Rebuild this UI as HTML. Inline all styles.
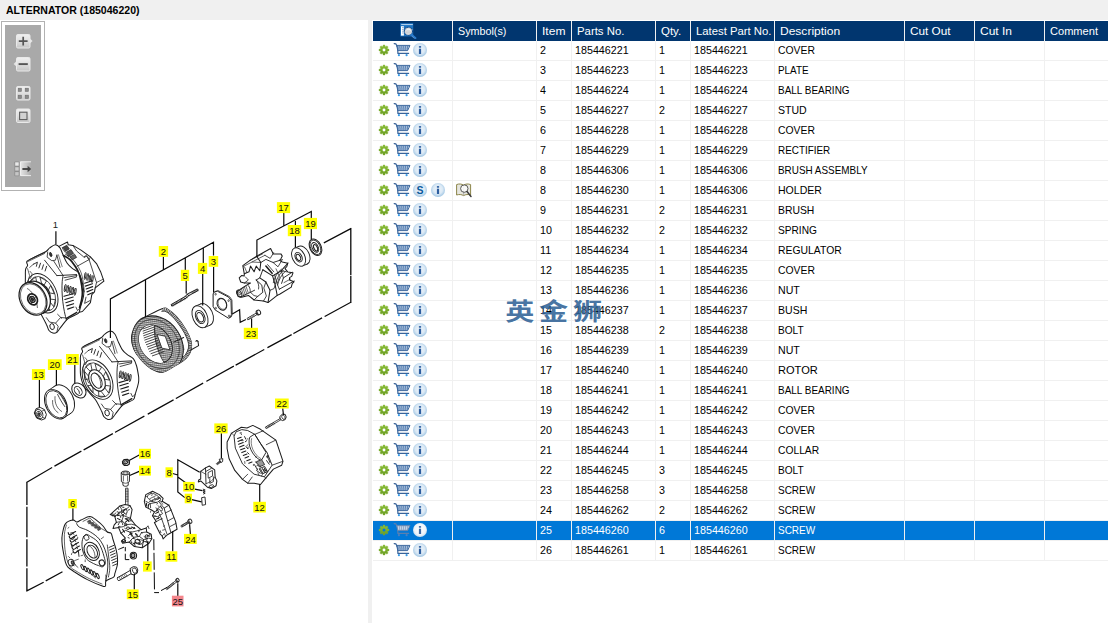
<!DOCTYPE html><html><head><meta charset="utf-8"><title>Parts</title><style>html,body{margin:0;padding:0}
body{width:1108px;height:623px;overflow:hidden;background:#fff;position:relative;font-family:"Liberation Sans",sans-serif;font-size:11.2px;color:#000}
#title{position:absolute;left:0;top:0;width:1108px;height:20px;background:#f0f0f0}
#title .tt{position:absolute;left:6px;top:3px;font-weight:bold;font-size:11.3px;line-height:14px;white-space:nowrap;display:inline-block;transform-origin:0 50%;transform:scaleX(0.9329)}
#left{position:absolute;left:0;top:20px;width:368px;height:603px;background:#fff;overflow:hidden}
#split{position:absolute;left:368px;top:20px;width:4px;height:603px;background:#f0f0f0}
#right{position:absolute;left:372px;top:20px;width:736px;height:603px;background:#fff}
#hdr{position:absolute;left:1px;top:1px;width:735px;height:20px;background:#01366f}
.ht{position:absolute;top:1px;height:20px;line-height:20px;color:#fff;white-space:nowrap;margin-left:-372px}
.vs{position:absolute;top:1px;width:1px;height:540px;background:#f0f0f0;margin-left:-372px;z-index:3}
.row{position:absolute;left:1px;width:735px;height:19px;border-bottom:1px solid #f0f0f0}
.row.sel{background:#0078d7;color:#fff}
.ct{position:absolute;top:0;height:19px;line-height:19px;white-space:nowrap}
.sx{display:inline-block;transform-origin:0 50%;transform:scaleX(0.93)}
.ic{position:absolute;overflow:visible}
#right>.ic{margin-left:-372px;margin-top:-20px}
#tb{position:absolute;left:1px;top:21px;width:42px;height:168px;border:1px solid #b2b2b2;background:#fff;z-index:4}
#tbi{position:absolute;left:3px;top:3px;width:36px;height:162px;background:#a9a9a9}
</style></head><body>
<svg width="0" height="0" style="position:absolute"><defs>
<linearGradient id="gg" x1="0" y1="0" x2="0" y2="1"><stop offset="0" stop-color="#8cc03a"/><stop offset="1" stop-color="#6a9c22"/></linearGradient>
<radialGradient id="ig" cx="0.5" cy="0.45" r="0.55"><stop offset="0" stop-color="#eef5fb"/><stop offset="0.6" stop-color="#dbe9f5"/><stop offset="1" stop-color="#9fc5e3"/></radialGradient>
<radialGradient id="igs" cx="0.5" cy="0.45" r="0.55"><stop offset="0" stop-color="#ffffff"/><stop offset="0.7" stop-color="#eef4fa"/><stop offset="1" stop-color="#c4dbee"/></radialGradient>
<symbol id="i-gear" overflow="visible"><path d="M4.03 1.33 L4.01 -0.00 L5.99 -0.00 L5.97 1.33 L6.91 1.71 L7.83 0.76 L9.24 2.17 L8.29 3.09 L8.67 4.03 L10.00 4.01 L10.00 5.99 L8.67 5.97 L8.29 6.91 L9.24 7.83 L7.83 9.24 L6.91 8.29 L5.97 8.67 L5.99 10.00 L4.01 10.00 L4.03 8.67 L3.09 8.29 L2.17 9.24 L0.76 7.83 L1.71 6.91 L1.33 5.97 L-0.00 5.99 L-0.00 4.01 L1.33 4.03 L1.71 3.09 L0.76 2.17 L2.17 0.76 L3.09 1.71Z" fill="url(#gg)" stroke="#7fb030" stroke-width="0.35" stroke-linejoin="round"/><circle cx="5" cy="5" r="1.45" fill="#fff"/></symbol>
<symbol id="i-gears" overflow="visible"><path d="M4.03 1.33 L4.01 -0.00 L5.99 -0.00 L5.97 1.33 L6.91 1.71 L7.83 0.76 L9.24 2.17 L8.29 3.09 L8.67 4.03 L10.00 4.01 L10.00 5.99 L8.67 5.97 L8.29 6.91 L9.24 7.83 L7.83 9.24 L6.91 8.29 L5.97 8.67 L5.99 10.00 L4.01 10.00 L4.03 8.67 L3.09 8.29 L2.17 9.24 L0.76 7.83 L1.71 6.91 L1.33 5.97 L-0.00 5.99 L-0.00 4.01 L1.33 4.03 L1.71 3.09 L0.76 2.17 L2.17 0.76 L3.09 1.71Z" fill="url(#gg)" stroke="#7fb030" stroke-width="0.35" stroke-linejoin="round"/><circle cx="5" cy="5" r="1.5" fill="#0078d7"/></symbol>
<symbol id="i-cart" overflow="visible">
 <path d="M0.2 0.6 L1.8 0.8 L3.6 4.2 L3.9 10.4 L14.6 10.4" fill="none" stroke="#38639a" stroke-width="1.2" stroke-linejoin="round" stroke-linecap="round"/>
 <path d="M2.6 2.4 L16 2.4 L13.6 7.6 L3.8 7.6 Z" fill="#5a82b4" stroke="#38639a" stroke-width="0.9" stroke-linejoin="round"/>
 <path d="M4.4 4.0 H14.8 M4.6 6.0 H14" stroke="#eef3fa" stroke-width="1.0" stroke-dasharray="1.0 0.9" fill="none"/>
 <circle cx="4.9" cy="12.2" r="1.1" fill="#3b9be6"/><circle cx="12.6" cy="12.2" r="1.1" fill="#3b9be6"/>
</symbol>
<symbol id="i-carts" overflow="visible">
 <path d="M0.2 0.6 L1.8 0.8 L3.6 4.2 L3.9 10.4 L14.6 10.4" fill="none" stroke="#5a7fae" stroke-width="1.2" stroke-linejoin="round" stroke-linecap="round"/>
 <path d="M2.6 2.4 L16 2.4 L13.6 7.6 L3.8 7.6 Z" fill="#8fa9c9" stroke="#6a88b0" stroke-width="0.9" stroke-linejoin="round"/>
 <path d="M4 4.1 H14.6 M4 5.9 H14" stroke="#f2f6fb" stroke-width="0.9" stroke-dasharray="1.1 0.9" fill="none"/>
 <circle cx="4.9" cy="12.2" r="1.1" fill="#4a7fc0"/><circle cx="12.6" cy="12.2" r="1.1" fill="#4a7fc0"/>
</symbol>
<symbol id="i-info" overflow="visible"><circle cx="7" cy="7" r="7" fill="url(#ig)"/><rect x="5.9" y="3.1" width="2.2" height="1.6" fill="#2c5d9f"/><rect x="5.9" y="5.7" width="2.2" height="5.3" fill="#2c5d9f"/></symbol>
<symbol id="i-infos" overflow="visible"><circle cx="7" cy="7" r="7" fill="url(#igs)"/><rect x="5.9" y="3.1" width="2.2" height="1.6" fill="#3c6aa6"/><rect x="5.9" y="5.7" width="2.2" height="5.3" fill="#3c6aa6"/></symbol>
<symbol id="i-s" overflow="visible"><circle cx="7" cy="7" r="7" fill="url(#ig)"/><text x="7" y="10.6" text-anchor="middle" font-family="Liberation Sans, sans-serif" font-weight="bold" font-size="10.5" fill="#0b5a9c">S</text></symbol>
<symbol id="i-book" overflow="visible">
 <path d="M0.6 1.6 C3 0.6 5.6 0.8 7.6 2.2 C9.6 0.8 12.2 0.6 14.6 1.6 L14.6 12 C12.2 11.2 9.6 11.4 7.6 12.6 C5.6 11.4 3 11.2 0.6 12 Z" fill="#e6e6df" stroke="#8c8548" stroke-width="1"/>
 <path d="M7.6 2.2 V12.6" stroke="#9a9a9a" stroke-width="0.7"/>
 <circle cx="8.3" cy="5.6" r="3.7" fill="#fbfbfb" fill-opacity="0.85" stroke="#4a4a4a" stroke-width="0.9"/>
 <path d="M11 8.6 L15 13.4" stroke="#3a3a3a" stroke-width="1.5" stroke-linecap="round"/>
</symbol>
<symbol id="i-find" overflow="visible">
 <rect x="0.2" y="0.2" width="13" height="13.2" fill="#1f74c2"/>
 <rect x="1.2" y="1.3" width="11.6" height="0.75" fill="#eaf3fb"/>
 <rect x="1" y="3.2" width="2.9" height="9.4" fill="#ffffff"/>
 <path d="M2.5 4.6 h0.9 M2.5 6.4 h0.9 M2.5 8.2 h0.9 M2.5 10 h0.9" stroke="#1b5da6" stroke-width="0.9"/>
 <path d="M12.1 6.2 L13 6.2 L13 7.2 Z" fill="#fff"/>
 <circle cx="8.4" cy="8.3" r="4.1" fill="#d6d9dd" stroke="#0f4a8c" stroke-width="1.05" stroke-dasharray="1.1 0.35"/>
 <path d="M6.6 7.0 C7.8 5.8 9.6 6.0 10.6 7.4" stroke="#fbfcfd" stroke-width="0.9" fill="none"/>
 <path d="M5.2 9.2 H11.4" stroke="#c4c9cf" stroke-width="0.7"/>
 <path d="M11.5 11.9 L15.4 15.0" stroke="#2a7acb" stroke-width="2.1" stroke-linecap="round"/>
 <path d="M11.9 13.3 L14.3 15.3" stroke="#e8f0f8" stroke-width="0.6" stroke-dasharray="0.7 0.7"/>
</symbol>
</defs></svg>
<div id="title"><span class="tt">ALTERNATOR (185046220)</span></div>
<div id="left"><svg class="ic" style="left:0;top:-20px" width="368" height="623" viewBox="0 0 368 623">
<g id="p18">
<ellipse cx="303.0" cy="255.2" rx="6.2" ry="9.8" transform="rotate(-26.0 303.0 255.2)" fill="#fff" stroke="#1c1c1c" stroke-width="0.91" />
<path d="M302.7 265.9 L307.1 264.1 L298.9 246.3 L294.5 248.1 Z" fill="#fff" stroke="none" stroke-width="0.00" stroke-linejoin="round" stroke-linecap="round" />
<path d="M302.7 265.9 l4.4 -1.8 M294.5 248.1 l4.4 -1.8" fill="none" stroke="#1c1c1c" stroke-width="0.91" stroke-linejoin="round" stroke-linecap="round" />
<ellipse cx="298.6" cy="257.0" rx="6.2" ry="9.8" transform="rotate(-26.0 298.6 257.0)" fill="#fff" stroke="#1c1c1c" stroke-width="0.91" />
<ellipse cx="298.6" cy="257.2" rx="3.3" ry="5.0" transform="rotate(-26.0 298.6 257.2)" fill="none" stroke="#1c1c1c" stroke-width="0.91" />
<ellipse cx="298.4" cy="257.4" rx="2.0" ry="3.3" transform="rotate(-26.0 298.4 257.4)" fill="none" stroke="#1c1c1c" stroke-width="1.03" />
</g>
<g id="p19">
<ellipse cx="315.5" cy="247.2" rx="5.6" ry="8.8" transform="rotate(-26.0 315.5 247.2)" fill="#fff" stroke="#1c1c1c" stroke-width="1.03" />
<ellipse cx="315.4" cy="247.3" rx="4.7" ry="7.7" transform="rotate(-26.0 315.4 247.3)" fill="none" stroke="#1c1c1c" stroke-width="0.80" />
<ellipse cx="315.2" cy="247.4" rx="3.0" ry="5.2" transform="rotate(-26.0 315.2 247.4)" fill="none" stroke="#1c1c1c" stroke-width="0.91" />
<ellipse cx="315.6" cy="247.8" rx="1.7" ry="3.5" transform="rotate(-26.0 315.6 247.8)" fill="none" stroke="#1c1c1c" stroke-width="1.14" />
</g>
<g id="p4">
<ellipse cx="205.4" cy="314.6" rx="7.2" ry="11.6" transform="rotate(-24.0 205.4 314.6)" fill="#fff" stroke="#1c1c1c" stroke-width="0.91" />
<path d="M204.5 327.5 L209.9 325.3 L200.9 303.9 L195.5 306.1 Z" fill="#fff" stroke="none" stroke-width="0.00" stroke-linejoin="round" stroke-linecap="round" />
<path d="M204.5 327.5 l5.4 -2.2 M195.5 306.1 l5.4 -2.2" fill="none" stroke="#1c1c1c" stroke-width="0.91" stroke-linejoin="round" stroke-linecap="round" />
<ellipse cx="200.0" cy="316.8" rx="7.2" ry="11.6" transform="rotate(-24.0 200.0 316.8)" fill="#fff" stroke="#1c1c1c" stroke-width="0.91" />
<ellipse cx="200.2" cy="317.0" rx="4.4" ry="7.0" transform="rotate(-24.0 200.2 317.0)" fill="none" stroke="#1c1c1c" stroke-width="0.91" />
<ellipse cx="200.2" cy="317.2" rx="3.0" ry="5.0" transform="rotate(-24.0 200.2 317.2)" fill="none" stroke="#1c1c1c" stroke-width="1.03" />
</g>
<g id="p3">
<path d="M214.2 293.1 L215.3 291.4 L218.3 290.7 L229.6 296.7 L231.9 299.9 L232.3 314.1 L231.3 316.8 L229.3 317.7 L216.0 309.4 L214.2 306.3 Z" fill="#fff" stroke="#1c1c1c" stroke-width="0.80" stroke-linejoin="round" stroke-linecap="round" />
<path d="M213.3 293.6 L214.4 291.9 L217.4 291.2 L228.7 297.2 L231.0 300.4 L231.4 314.6 L230.4 317.3 L228.4 318.2 L215.1 309.9 L213.3 306.8 Z" fill="#fff" stroke="#1c1c1c" stroke-width="0.97" stroke-linejoin="round" stroke-linecap="round" />
<ellipse cx="221.9" cy="304.2" rx="4.6" ry="6.2" transform="rotate(-22.0 221.9 304.2)" fill="none" stroke="#1c1c1c" stroke-width="0.97" />
<ellipse cx="222.3" cy="304.0" rx="4.0" ry="5.5" transform="rotate(-22.0 222.3 304.0)" fill="none" stroke="#1c1c1c" stroke-width="0.57" />
<ellipse cx="215.6" cy="294.2" rx="0.7" ry="0.9" transform="rotate(0.0 215.6 294.2)" fill="none" stroke="#1c1c1c" stroke-width="0.68" />
<ellipse cx="228.6" cy="300.6" rx="0.7" ry="0.9" transform="rotate(0.0 228.6 300.6)" fill="none" stroke="#1c1c1c" stroke-width="0.68" />
<ellipse cx="215.8" cy="308.2" rx="0.7" ry="0.9" transform="rotate(0.0 215.8 308.2)" fill="none" stroke="#1c1c1c" stroke-width="0.68" />
<ellipse cx="229.0" cy="315.9" rx="0.7" ry="0.9" transform="rotate(0.0 229.0 315.9)" fill="none" stroke="#1c1c1c" stroke-width="0.68" />
</g>
<g id="p5">
<path d="M171.4 304.4 L185.6 296.2 L187.2 294.1 L197.4 288.9 L198.4 290.3 L188.4 295.9 L186.6 297.9 L172.2 306 Z" fill="#d0d0d0" stroke="#1c1c1c" stroke-width="0.97" stroke-linejoin="round" stroke-linecap="round" />
<path d="M172.4 304.7 l0.8 1.2 M173.7 303.9 l0.8 1.2 M175 303.2 l0.8 1.2 M176.3 302.4 l0.8 1.2 M177.6 301.7 l0.8 1.2 M178.9 300.9 l0.8 1.2 M180.2 300.2 l0.8 1.2 M181.5 299.4 l0.8 1.2 M182.8 298.7 l0.8 1.2 M184.1 297.9 l0.8 1.2 M192 292.4 l0.7 1.1 M193.3 291.7 l0.7 1.1 M194.6 291 l0.7 1.1 M195.9 290.4 l0.7 1.1 M197 289.8 l0.7 1.1" fill="none" stroke="#1c1c1c" stroke-width="0.68" stroke-linejoin="round" stroke-linecap="round" />
<path d="M185.6 296.2 l1.4 1.6 M187.2 294.1 l1.6 1.7" fill="none" stroke="#1c1c1c" stroke-width="0.91" stroke-linejoin="round" stroke-linecap="round" />
</g>
<g id="p23">
<path d="M247.4 318.2 L255.9 313.3 L256.9 314.7 L248.2 319.7 Z" fill="#fff" stroke="#1c1c1c" stroke-width="0.80" stroke-linejoin="round" stroke-linecap="round" />
<path d="M248.6 317.7 l0.8 1.3 M250.2 316.8 l0.8 1.3 M251.8 315.9 l0.8 1.3 M253.4 315 l0.8 1.3" fill="none" stroke="#1c1c1c" stroke-width="0.57" stroke-linejoin="round" stroke-linecap="round" />
<ellipse cx="258.0" cy="312.8" rx="1.7" ry="2.4" transform="rotate(-26.0 258.0 312.8)" fill="#fff" stroke="#1c1c1c" stroke-width="0.91" />
<ellipse cx="258.8" cy="312.3" rx="1.7" ry="2.4" transform="rotate(-26.0 258.8 312.3)" fill="#fff" stroke="#1c1c1c" stroke-width="0.91" />
</g>
<g id="p13">
<path d="M34.4 412.6 L36.2 408.6 L40.2 407.4 L44.4 409.6 L46.4 414.6 L45.0 418.6 L41.6 420.0 L37.0 418.2 Z" fill="#fff" stroke="#1c1c1c" stroke-width="0.97" stroke-linejoin="round" stroke-linecap="round" />
<ellipse cx="39.2" cy="414.0" rx="3.4" ry="4.8" transform="rotate(-26.0 39.2 414.0)" fill="none" stroke="#1c1c1c" stroke-width="0.91" />
<ellipse cx="39.0" cy="414.1" rx="2.0" ry="3.0" transform="rotate(-26.0 39.0 414.1)" fill="none" stroke="#1c1c1c" stroke-width="0.80" />
<ellipse cx="39.0" cy="414.2" rx="0.9" ry="1.4" transform="rotate(-26.0 39.0 414.2)" fill="#555" stroke="#1c1c1c" stroke-width="0.91" />
<path d="M42.2 411 L44.6 410 M42.8 417.2 L45 418.4" fill="none" stroke="#1c1c1c" stroke-width="0.68" stroke-linejoin="round" stroke-linecap="round" />
</g>
<g id="p20">
<ellipse cx="63.0" cy="399.6" rx="10.2" ry="15.8" transform="rotate(-27.0 63.0 399.6)" fill="#fff" stroke="#1c1c1c" stroke-width="0.91" />
<path d="M63.8 417.9 L70.8 413.3 L55.2 385.9 L48.2 390.5 Z" fill="#fff" stroke="none" stroke-width="0.00" stroke-linejoin="round" stroke-linecap="round" />
<path d="M63.8 417.9 l7.0 -4.6 M48.2 390.5 l7.0 -4.6" fill="none" stroke="#1c1c1c" stroke-width="0.91" stroke-linejoin="round" stroke-linecap="round" />
<ellipse cx="56.0" cy="404.2" rx="10.2" ry="15.8" transform="rotate(-27.0 56.0 404.2)" fill="#fff" stroke="#1c1c1c" stroke-width="0.91" />
<ellipse cx="56.3" cy="404.3" rx="9.2" ry="14.6" transform="rotate(-27.0 56.3 404.3)" fill="none" stroke="#1c1c1c" stroke-width="0.80" />
<path d="M52.6 400.5 C52.2 406 54.4 410.4 58 412.6" fill="none" stroke="#1c1c1c" stroke-width="0.68" stroke-linejoin="round" stroke-linecap="round" />
<path d="M55 396.6 C54.4 403 57 408.6 61.6 411.4" fill="none" stroke="#1c1c1c" stroke-width="0.68" stroke-linejoin="round" stroke-linecap="round" />
<path d="M57.6 394.4 C59.6 398.4 62.4 403.6 64.8 406.6" fill="none" stroke="#1c1c1c" stroke-width="0.80" stroke-linejoin="round" stroke-linecap="round" />
<path d="M59.6 393.4 C62 397.4 64.6 402 66.4 404.6" fill="none" stroke="#1c1c1c" stroke-width="0.68" stroke-linejoin="round" stroke-linecap="round" />
</g>
<g id="p21">
<ellipse cx="78.9" cy="390.5" rx="6.3" ry="8.2" transform="rotate(-40.0 78.9 390.5)" fill="#fff" stroke="#1c1c1c" stroke-width="1.03" />
<ellipse cx="78.2" cy="390.9" rx="3.4" ry="4.9" transform="rotate(-35.0 78.2 390.9)" fill="none" stroke="#1c1c1c" stroke-width="0.91" />
<path d="M77 388.6 C78.6 389.6 79.6 391.6 79.4 393.4" fill="none" stroke="#1c1c1c" stroke-width="0.91" stroke-linejoin="round" stroke-linecap="round" />
</g>
<g id="p17">
<path d="M239.7 289.7 L245.9 285.6 L250.5 283.0 L244.3 283.1 L240.7 282.0 L239.2 277.9 L241.8 275.4 L244.2 276.0 L244.3 273.8 L242.8 265.6 L250.0 260.4 L256.7 256.3 L270.6 248.5 L273.3 253.9 L280.9 253.9 L282.3 256.1 L280.9 258.8 L279.6 260.4 L282.3 262.0 L287.7 263.3 L286.8 266.5 L285.0 268.6 L287.7 271.9 L293.0 272.8 L291.7 276.4 L289.5 277.6 L289.5 280.0 L294.0 281.8 L292.2 283.6 L291.3 287.1 L279.6 294.3 L277.2 295.4 L268.0 302.6 L263.4 301.1 L254.1 300.0 L248.4 295.4 L241.5 297.3 L238.2 296.6 L237.0 293.5 L238.0 290.4 Z" fill="#fff" stroke="#1c1c1c" stroke-width="1.03" stroke-linejoin="round" stroke-linecap="round" />
<ellipse cx="239.2" cy="293.4" rx="2.2" ry="3.7" transform="rotate(-26.0 239.2 293.4)" fill="none" stroke="#1c1c1c" stroke-width="0.91" />
<ellipse cx="239.2" cy="293.4" rx="1.0" ry="1.8" transform="rotate(-26.0 239.2 293.4)" fill="none" stroke="#1c1c1c" stroke-width="0.68" />
<path d="M240.7 296.9 L250.5 292.3 L254.6 290.2" fill="none" stroke="#1c1c1c" stroke-width="0.91" stroke-linejoin="round" stroke-linecap="round" />
<path d="M241.4 288.8 l2.4 7 M242.9 287.9 l2.4 7 M244.4 287 l2.4 6.8 M245.9 286 l2.3 6.6" fill="none" stroke="#1c1c1c" stroke-width="0.63" stroke-linejoin="round" stroke-linecap="round" />
<path d="M247.6 284.8 C249.6 286 250.6 289.6 250.2 292.2" fill="none" stroke="#1c1c1c" stroke-width="0.80" stroke-linejoin="round" stroke-linecap="round" />
<path d="M256.2 280 C258.4 282 259.2 286 258.6 289" fill="none" stroke="#1c1c1c" stroke-width="0.80" stroke-linejoin="round" stroke-linecap="round" />
<path d="M245.4 276.9 L248.4 280.0 L244.3 283.1" fill="none" stroke="#1c1c1c" stroke-width="0.80" stroke-linejoin="round" stroke-linecap="round" />
<path d="M244.3 273.8 L249.0 271.8 L250.5 266.1 L254.1 271.8 L256.2 266.1 L259.8 270.7 L260.8 262.5 L256.7 256.3" fill="none" stroke="#1c1c1c" stroke-width="1.03" stroke-linejoin="round" stroke-linecap="round" />
<path d="M244.6 267.0 L246.8 272.4" fill="none" stroke="#1c1c1c" stroke-width="0.68" stroke-linejoin="round" stroke-linecap="round" />
<path d="M250.0 260.4 L262.8 253.8" fill="none" stroke="#1c1c1c" stroke-width="0.68" stroke-linejoin="round" stroke-linecap="round" />
<path d="M252.0 262.0 L264.9 255.3" fill="none" stroke="#1c1c1c" stroke-width="0.68" stroke-linejoin="round" stroke-linecap="round" />
<path d="M243.4 266.4 L252.0 262.0 L260.8 262.5" fill="none" stroke="#1c1c1c" stroke-width="0.68" stroke-linejoin="round" stroke-linecap="round" />
<path d="M260.8 262.5 L265.9 259.4 L273.1 262.5 L281.3 259.8" fill="none" stroke="#1c1c1c" stroke-width="0.91" stroke-linejoin="round" stroke-linecap="round" />
<path d="M262.8 269.7 L272.6 275.9 L281.3 270.7 L288.0 263.0" fill="none" stroke="#1c1c1c" stroke-width="1.03" stroke-linejoin="round" stroke-linecap="round" />
<path d="M265.9 266.1 L272.1 273.3" fill="none" stroke="#1c1c1c" stroke-width="1.60" stroke-linejoin="round" stroke-linecap="round" />
<path d="M267.6 264.6 L273.8 271.8" fill="none" stroke="#1c1c1c" stroke-width="0.80" stroke-linejoin="round" stroke-linecap="round" />
<path d="M264.9 255.3 L270.2 258.4 L273.6 252.7" fill="none" stroke="#1c1c1c" stroke-width="0.80" stroke-linejoin="round" stroke-linecap="round" />
<path d="M273.1 262.5 L278.0 266.8 L282.4 259.4" fill="none" stroke="#1c1c1c" stroke-width="0.80" stroke-linejoin="round" stroke-linecap="round" />
<path d="M272.6 275.9 L275.2 285.1 L277.2 295.4" fill="none" stroke="#1c1c1c" stroke-width="1.03" stroke-linejoin="round" stroke-linecap="round" />
<path d="M274.6 275.0 L277.2 284.0 L279.3 289.2" fill="none" stroke="#1c1c1c" stroke-width="0.80" stroke-linejoin="round" stroke-linecap="round" />
<path d="M259.8 277.9 L265.9 282.0 L270.0 290.3 L268.0 302.6" fill="none" stroke="#1c1c1c" stroke-width="1.03" stroke-linejoin="round" stroke-linecap="round" />
<path d="M262.8 269.7 L259.8 277.9 L256.2 280.0" fill="none" stroke="#1c1c1c" stroke-width="0.91" stroke-linejoin="round" stroke-linecap="round" />
<path d="M256.2 280.0 L261.8 285.1 L262.8 292.3 L257.7 296.4 L254.1 300.0" fill="none" stroke="#1c1c1c" stroke-width="0.91" stroke-linejoin="round" stroke-linecap="round" />
<path d="M265.9 282.0 L263.8 288.0 L266.4 296.0 L263.4 301.1" fill="none" stroke="#1c1c1c" stroke-width="0.80" stroke-linejoin="round" stroke-linecap="round" />
<path d="M270.0 290.3 L274.0 288.6 L275.2 285.1" fill="none" stroke="#1c1c1c" stroke-width="0.80" stroke-linejoin="round" stroke-linecap="round" />
<path d="M250.5 292.3 L254.0 295.6 L257.7 296.4" fill="none" stroke="#1c1c1c" stroke-width="0.80" stroke-linejoin="round" stroke-linecap="round" />
<path d="M281.4 269.2 C277.6 272 274.4 277.6 273.3 282.7 M283.2 270.4 C279.6 273.4 276.4 279 275.4 284 M285 271.6 C281.6 274.6 278.6 280 277.6 285" fill="none" stroke="#1c1c1c" stroke-width="0.80" stroke-linejoin="round" stroke-linecap="round" />
<path d="M286.5 271.8 L281.3 270.7" fill="none" stroke="#1c1c1c" stroke-width="0.80" stroke-linejoin="round" stroke-linecap="round" />
<path d="M292.1 272.3 L283.4 277.9 L281.6 283.4" fill="none" stroke="#1c1c1c" stroke-width="0.91" stroke-linejoin="round" stroke-linecap="round" />
<path d="M294.2 281.0 L279.3 289.2" fill="none" stroke="#1c1c1c" stroke-width="0.91" stroke-linejoin="round" stroke-linecap="round" />
<path d="M290.6 279.0 L284.0 282.6" fill="none" stroke="#1c1c1c" stroke-width="0.68" stroke-linejoin="round" stroke-linecap="round" />
<path d="M281.3 270.7 L283.4 277.9" fill="none" stroke="#1c1c1c" stroke-width="0.80" stroke-linejoin="round" stroke-linecap="round" />
<path d="M276.0 268.8 L279.6 276.6 L277.4 283.0" fill="none" stroke="#1c1c1c" stroke-width="0.68" stroke-linejoin="round" stroke-linecap="round" />
</g>
<defs><pattern id="hat" width="2" height="2" patternUnits="userSpaceOnUse" patternTransform="rotate(25)"><rect width="2" height="2" fill="#dedede"/><path d="M0 0.5 H2" stroke="#2a2a2a" stroke-width="0.62"/><path d="M0.6 0 V2" stroke="#555" stroke-width="0.38"/></pattern><clipPath id="stS"><path d="M145.3 316.7 C149.1 314.9 159.0 309.9 162.7 308.6 C166.4 307.3 165.0 307.6 167.3 309.0 C169.6 310.4 173.4 313.3 176.5 316.7 C179.6 320.1 183.4 325.3 185.8 329.4 C188.2 333.4 190.1 337.7 191.0 341.0 C191.9 344.3 191.8 346.6 191.3 349.1 C190.8 351.6 189.4 354.1 188.1 356.0 C186.8 357.9 185.8 358.9 183.5 360.6 C181.2 362.3 177.7 364.5 174.2 366.4 C170.7 368.3 166.5 371.8 162.7 372.2 C158.8 372.6 154.8 370.8 151.1 368.7 C147.4 366.6 143.6 362.8 140.7 359.5 C137.8 356.2 135.3 352.8 133.8 349.1 C132.3 345.4 131.3 341.4 131.5 337.5 C131.7 333.6 133.5 329.0 134.9 326.0 C136.3 323.0 138.5 320.9 140.2 319.4 C141.9 317.8 141.6 318.5 145.3 316.7 Z"/></clipPath><clipPath id="stO"><ellipse cx="155.6" cy="344" rx="15" ry="20.4" transform="rotate(-33 155.6 344)"/></clipPath></defs>
<g id="p2">
<path d="M145.3 316.7 C149.1 314.9 159.0 309.9 162.7 308.6 C166.4 307.3 165.0 307.6 167.3 309.0 C169.6 310.4 173.4 313.3 176.5 316.7 C179.6 320.1 183.4 325.3 185.8 329.4 C188.2 333.4 190.1 337.7 191.0 341.0 C191.9 344.3 191.8 346.6 191.3 349.1 C190.8 351.6 189.4 354.1 188.1 356.0 C186.8 357.9 185.8 358.9 183.5 360.6 C181.2 362.3 177.7 364.5 174.2 366.4 C170.7 368.3 166.5 371.8 162.7 372.2 C158.8 372.6 154.8 370.8 151.1 368.7 C147.4 366.6 143.6 362.8 140.7 359.5 C137.8 356.2 135.3 352.8 133.8 349.1 C132.3 345.4 131.3 341.4 131.5 337.5 C131.7 333.6 133.5 329.0 134.9 326.0 C136.3 323.0 138.5 320.9 140.2 319.4 C141.9 317.8 141.6 318.5 145.3 316.7 Z" fill="#fff" stroke="#1c1c1c" stroke-width="1.03" stroke-linejoin="round" stroke-linecap="round" />
<g clip-path="url(#stS)">
<path d="M162.7 309.6 C163.4 309.7 164.8 308.9 167.0 310.2 C169.2 311.5 172.7 314.3 175.6 317.6 C178.5 320.9 182.3 326.1 184.6 330.0 C186.9 333.9 188.7 338.1 189.6 341.2 C190.5 344.3 190.3 346.5 189.9 348.8 C189.5 351.1 188.2 353.4 187.0 355.2 C185.8 357.0 184.8 358.0 182.6 359.6 C180.4 361.2 175.4 364.1 174.0 365.0" fill="none" stroke="#c8c8c8" stroke-width="3.8"/>
<path d="M162.7 309.6 C163.4 309.7 164.8 308.9 167.0 310.2 C169.2 311.5 172.7 314.3 175.6 317.6 C178.5 320.9 182.3 326.1 184.6 330.0 C186.9 333.9 188.7 338.1 189.6 341.2 C190.5 344.3 190.3 346.5 189.9 348.8 C189.5 351.1 188.2 353.4 187.0 355.2 C185.8 357.0 184.8 358.0 182.6 359.6 C180.4 361.2 175.4 364.1 174.0 365.0" fill="none" stroke="#2a2a2a" stroke-width="3.8" stroke-dasharray="0.65 1.1"/>
<path d="M162.7 309.6 C163.4 309.7 164.8 308.9 167.0 310.2 C169.2 311.5 172.7 314.3 175.6 317.6 C178.5 320.9 182.3 326.1 184.6 330.0 C186.9 333.9 188.7 338.1 189.6 341.2 C190.5 344.3 190.3 346.5 189.9 348.8 C189.5 351.1 188.2 353.4 187.0 355.2 C185.8 357.0 184.8 358.0 182.6 359.6 C180.4 361.2 175.4 364.1 174.0 365.0" fill="none" stroke="#1c1c1c" stroke-width="0.01" stroke-linejoin="round" stroke-linecap="round" />
<path d="M161.6 311.4 C162.4 311.5 164.3 310.6 166.4 311.8 C168.5 313.0 171.6 315.6 174.4 318.8 C177.2 322.0 180.9 327.0 183.2 330.8 C185.5 334.6 187.2 338.7 188.0 341.6 C188.8 344.5 188.7 346.3 188.3 348.4 C187.9 350.5 186.7 352.7 185.6 354.4 C184.5 356.1 183.6 356.9 181.6 358.4 C179.6 359.9 174.9 362.6 173.6 363.4" fill="none" stroke="#1c1c1c" stroke-width="0.68" stroke-linejoin="round" stroke-linecap="round" />
<path d="M172.8 349.4 l1.2 10.6" stroke="#333" stroke-width="0.5"/>
<path d="M174.5 348.6 l1.2 9.7" stroke="#333" stroke-width="0.5"/>
<path d="M176.2 347.9 l1.2 8.8" stroke="#333" stroke-width="0.5"/>
<path d="M177.9 347.1 l1.2 7.9" stroke="#333" stroke-width="0.5"/>
<path d="M179.6 346.4 l1.2 7.0" stroke="#333" stroke-width="0.5"/>
<path d="M181.3 345.6 l1.2 6.1" stroke="#333" stroke-width="0.5"/>
<path d="M183.0 344.9 l1.2 5.2" stroke="#333" stroke-width="0.5"/>
<ellipse cx="157.5" cy="344.2" rx="23.9" ry="29.9" transform="rotate(-33.0 157.5 344.2)" fill="url(#hat)" stroke="#1c1c1c" stroke-width="1.03" />
<ellipse cx="157.0" cy="344.0" rx="20.6" ry="26.2" transform="rotate(-33.0 157.0 344.0)" fill="none" stroke="#1c1c1c" stroke-width="0.57" />
</g>
<ellipse cx="155.6" cy="344.0" rx="15.0" ry="20.4" transform="rotate(-33.0 155.6 344.0)" fill="url(#hat)" stroke="#1c1c1c" stroke-width="0.91" />
<g clip-path="url(#stO)">
<path d="M136 320 L154.6 322 C153.6 333 155.4 350 165 364 L138 366 Z" fill="#fff" stroke="#1c1c1c" stroke-width="0.80" stroke-linejoin="round" stroke-linecap="round" />
<path d="M142.6 329.0 l12.2 -4.4" stroke="#1c1c1c" stroke-width="0.8" fill="none"/>
<path d="M142.7 331.2 l12.2 -4.4" stroke="#1c1c1c" stroke-width="0.8" fill="none"/>
<path d="M142.9 333.5 l12.2 -4.4" stroke="#1c1c1c" stroke-width="0.8" fill="none"/>
<path d="M143.3 335.8 l12.2 -4.4" stroke="#1c1c1c" stroke-width="0.8" fill="none"/>
<path d="M143.8 338.0 l12.2 -4.4" stroke="#1c1c1c" stroke-width="0.8" fill="none"/>
<path d="M144.4 340.2 l12.2 -4.4" stroke="#1c1c1c" stroke-width="0.8" fill="none"/>
<path d="M145.1 342.5 l12.2 -4.4" stroke="#1c1c1c" stroke-width="0.8" fill="none"/>
<path d="M146.0 344.8 l12.2 -4.4" stroke="#1c1c1c" stroke-width="0.8" fill="none"/>
<path d="M147.0 347.0 l12.2 -4.4" stroke="#1c1c1c" stroke-width="0.8" fill="none"/>
<path d="M148.0 349.2 l12.2 -4.4" stroke="#1c1c1c" stroke-width="0.8" fill="none"/>
<path d="M149.3 351.5 l12.2 -4.4" stroke="#1c1c1c" stroke-width="0.8" fill="none"/>
<path d="M150.6 353.8 l12.2 -4.4" stroke="#1c1c1c" stroke-width="0.8" fill="none"/>
<path d="M152.0 356.0 l12.2 -4.4" stroke="#1c1c1c" stroke-width="0.8" fill="none"/>
<path d="M157.4 334.6 L165.2 336.2 L170.0 349.8 L162.2 348.2 Z" fill="#fff" stroke="#1c1c1c" stroke-width="0.80" stroke-linejoin="round" stroke-linecap="round" />
</g>
<path d="M173.8 342.1 L183.6 337.5" fill="none" stroke="#1c1c1c" stroke-width="1.03" stroke-linejoin="round" stroke-linecap="round" />
<path d="M190.4 350.2 L198.6 345.6 L198.0 341.6" fill="none" stroke="#1c1c1c" stroke-width="1.03" stroke-linejoin="round" stroke-linecap="round" />
<path d="M198.0 341.6 C197.8 340.2 196.2 340.2 196.0 341.4" fill="none" stroke="#1c1c1c" stroke-width="1.03" stroke-linejoin="round" stroke-linecap="round" />
</g>
<g id="pfh">
<path d="M110.4 331.1 C112.1 331.1 113.7 332.5 115.0 334.2 C116.3 335.9 116.9 338.8 118.1 341.4 C119.3 344.0 120.7 347.4 122.2 349.6 C123.7 351.8 125.4 353.2 127.3 354.7 C129.2 356.2 131.9 356.9 133.5 358.8 C135.1 360.7 135.8 363.1 136.6 366.0 C137.4 368.9 138.2 373.8 138.6 376.3 C138.9 378.8 138.8 379.4 138.7 381.0 C138.6 382.6 138.4 383.4 137.8 385.6 C137.2 387.8 135.9 392.0 135.2 394.3 C134.5 396.6 134.9 398.1 133.5 399.5 C132.1 400.9 128.6 401.9 126.6 403.0 C124.6 404.1 123.3 404.5 121.4 406.4 C119.5 408.3 116.9 412.2 115.3 414.2 C113.7 416.2 113.0 417.7 111.8 418.6 C110.6 419.5 109.2 419.7 107.9 419.4 C106.6 419.1 105.1 418.2 104.0 416.8 C102.9 415.4 102.9 413.7 101.4 410.8 C100.0 407.9 97.6 402.8 95.3 399.5 C93.0 396.2 89.5 393.3 87.5 390.8 C85.5 388.3 84.4 387.3 83.2 384.7 C82.0 382.1 81.1 378.8 80.6 375.2 C80.1 371.6 80.4 366.2 80.4 363.0 C80.4 359.8 80.2 357.6 80.6 355.7 C81.0 353.8 82.3 353.0 82.6 351.6 C82.8 350.2 80.6 349.0 82.1 347.5 C83.6 346.0 88.2 344.2 91.4 342.6 C94.6 341.0 98.9 339.2 101.1 337.8 C103.3 336.4 103.2 335.3 104.7 334.2 C106.2 333.1 108.7 331.1 110.4 331.1 Z" fill="#fff" stroke="#1c1c1c" stroke-width="1.03" stroke-linejoin="round" stroke-linecap="round" />
<path d="M84.2 346.0 L100.1 338.3" fill="none" stroke="#1c1c1c" stroke-width="0.68" stroke-linejoin="round" stroke-linecap="round" />
<path d="M82.6 348.0 L99.6 339.8" fill="none" stroke="#1c1c1c" stroke-width="0.68" stroke-linejoin="round" stroke-linecap="round" />
<ellipse cx="105.7" cy="340.8" rx="1.1" ry="2.2" transform="rotate(-20.0 105.7 340.8)" fill="#333" stroke="#1c1c1c" stroke-width="0.68" />
<path d="M102.7 338.3 L102.1 343.4 L106.8 347.0 L110.4 346.5 L111.9 341.4" fill="none" stroke="#1c1c1c" stroke-width="0.80" stroke-linejoin="round" stroke-linecap="round" />
<path d="M111.9 341.4 L115.0 353.7" fill="none" stroke="#1c1c1c" stroke-width="0.80" stroke-linejoin="round" stroke-linecap="round" />
<path d="M108.8 347.5 L118.1 361.9" fill="none" stroke="#1c1c1c" stroke-width="0.80" stroke-linejoin="round" stroke-linecap="round" />
<path d="M99.6 346.5 L111.9 361.9" fill="none" stroke="#1c1c1c" stroke-width="0.91" stroke-linejoin="round" stroke-linecap="round" />
<path d="M113.4 341.0 L117.2 353.0" fill="none" stroke="#1c1c1c" stroke-width="0.57" stroke-linejoin="round" stroke-linecap="round" />
<path d="M111.9 361.9 L131.4 360.9" fill="none" stroke="#1c1c1c" stroke-width="0.91" stroke-linejoin="round" stroke-linecap="round" />
<path d="M119.1 364.0 L131.9 361.9" fill="none" stroke="#1c1c1c" stroke-width="0.80" stroke-linejoin="round" stroke-linecap="round" />
<path d="M120.1 366.5 L131.4 363.4 L131.4 360.9" fill="none" stroke="#1c1c1c" stroke-width="0.80" stroke-linejoin="round" stroke-linecap="round" />
<path d="M88.3 350.6 L92.4 348.5 L91.4 352.6" fill="none" stroke="#1c1c1c" stroke-width="0.91" stroke-linejoin="round" stroke-linecap="round" />
<path d="M95.5 349.5 L93.9 354.2" fill="none" stroke="#1c1c1c" stroke-width="0.91" stroke-linejoin="round" stroke-linecap="round" />
<path d="M98.5 351.1 L97.0 355.7" fill="none" stroke="#1c1c1c" stroke-width="0.91" stroke-linejoin="round" stroke-linecap="round" />
<path d="M101.6 352.6 L100.1 357.3" fill="none" stroke="#1c1c1c" stroke-width="0.91" stroke-linejoin="round" stroke-linecap="round" />
<path d="M84.7 353.7 L88.3 350.6" fill="none" stroke="#1c1c1c" stroke-width="0.68" stroke-linejoin="round" stroke-linecap="round" />
<ellipse cx="97.6" cy="379.6" rx="13.6" ry="21.0" transform="rotate(-27.0 97.6 379.6)" fill="none" stroke="#1c1c1c" stroke-width="0.91" />
<ellipse cx="97.4" cy="380.0" rx="11.6" ry="18.4" transform="rotate(-27.0 97.4 380.0)" fill="none" stroke="#1c1c1c" stroke-width="0.68" />
<path d="M85.2 379.3 L84.6 371.5 L88.4 376.0 L88.5 378.6 Z" fill="none" stroke="#1c1c1c" stroke-width="0.80" stroke-linejoin="round" stroke-linecap="round" />
<path d="M86.3 366.7 L90.7 363.4 L92.0 370.0 L90.4 371.0 Z" fill="none" stroke="#1c1c1c" stroke-width="0.80" stroke-linejoin="round" stroke-linecap="round" />
<path d="M95.3 363.6 L101.5 367.2 L99.1 371.3 L97.0 370.1 Z" fill="none" stroke="#1c1c1c" stroke-width="0.80" stroke-linejoin="round" stroke-linecap="round" />
<path d="M105.8 372.2 L109.4 380.1 L104.7 379.2 L103.6 376.6 Z" fill="none" stroke="#1c1c1c" stroke-width="0.80" stroke-linejoin="round" stroke-linecap="round" />
<path d="M110.3 386.4 L108.7 393.0 L104.8 387.9 L105.4 385.8 Z" fill="none" stroke="#1c1c1c" stroke-width="0.80" stroke-linejoin="round" stroke-linecap="round" />
<path d="M104.7 396.4 L98.8 396.2 L98.6 391.2 L100.6 391.2 Z" fill="none" stroke="#1c1c1c" stroke-width="0.80" stroke-linejoin="round" stroke-linecap="round" />
<path d="M92.8 392.4 L87.7 385.6 L91.0 385.3 L92.7 387.5 Z" fill="none" stroke="#1c1c1c" stroke-width="0.80" stroke-linejoin="round" stroke-linecap="round" />
<ellipse cx="97.0" cy="380.4" rx="7.4" ry="11.4" transform="rotate(-27.0 97.0 380.4)" fill="#fff" stroke="#1c1c1c" stroke-width="1.03" />
<ellipse cx="96.6" cy="380.6" rx="4.7" ry="8.2" transform="rotate(-27.0 96.6 380.6)" fill="none" stroke="#1c1c1c" stroke-width="0.91" />
<path d="M95.0 373.0 C99.6 375.4 101.6 382.0 100.4 387.6" fill="none" stroke="#1c1c1c" stroke-width="0.68" stroke-linejoin="round" stroke-linecap="round" />
<path d="M118.1 361.9 C117.9 362.9 117.4 365.5 117.2 368.0 C117.0 370.5 116.9 373.6 117.0 376.9 C117.1 380.2 117.4 384.5 117.8 388.0 C118.2 391.5 118.8 394.9 119.4 398.0 C120.0 401.1 121.1 405.0 121.4 406.4" fill="none" stroke="#1c1c1c" stroke-width="0.91" stroke-linejoin="round" stroke-linecap="round" />
<ellipse cx="120.2" cy="374.4" rx="0.8" ry="3.7" transform="rotate(8.0 120.2 374.4)" fill="none" stroke="#1c1c1c" stroke-width="0.91" />
<ellipse cx="122.7" cy="375.3" rx="0.8" ry="3.7" transform="rotate(8.0 122.7 375.3)" fill="none" stroke="#1c1c1c" stroke-width="0.91" />
<ellipse cx="125.2" cy="376.2" rx="0.8" ry="3.7" transform="rotate(8.0 125.2 376.2)" fill="none" stroke="#1c1c1c" stroke-width="0.91" />
<ellipse cx="127.7" cy="377.1" rx="0.8" ry="3.7" transform="rotate(8.0 127.7 377.1)" fill="none" stroke="#1c1c1c" stroke-width="0.91" />
<ellipse cx="130.2" cy="378.0" rx="0.8" ry="3.7" transform="rotate(8.0 130.2 378.0)" fill="none" stroke="#1c1c1c" stroke-width="0.91" />
<path d="M119.0 382.6 l9.0 -2.6" fill="none" stroke="#1c1c1c" stroke-width="1.14" stroke-linejoin="round" stroke-linecap="round" />
<path d="M119.9 385.8 l8.3 -2.5" fill="none" stroke="#1c1c1c" stroke-width="1.14" stroke-linejoin="round" stroke-linecap="round" />
<path d="M120.8 389.0 l7.6 -2.4" fill="none" stroke="#1c1c1c" stroke-width="1.14" stroke-linejoin="round" stroke-linecap="round" />
<path d="M121.7 392.2 l6.9 -2.2" fill="none" stroke="#1c1c1c" stroke-width="1.14" stroke-linejoin="round" stroke-linecap="round" />
<path d="M122.6 395.4 l6.2 -2.1" fill="none" stroke="#1c1c1c" stroke-width="1.14" stroke-linejoin="round" stroke-linecap="round" />
<path d="M130.9 393.4 L132.6 396.9 L135.2 394.3" fill="none" stroke="#1c1c1c" stroke-width="0.80" stroke-linejoin="round" stroke-linecap="round" />
<path d="M131.8 398.6 L121.4 404.6" fill="none" stroke="#1c1c1c" stroke-width="1.37" stroke-linejoin="round" stroke-linecap="round" />
<ellipse cx="107.1" cy="412.9" rx="2.2" ry="3.0" transform="rotate(-15.0 107.1 412.9)" fill="none" stroke="#1c1c1c" stroke-width="0.91" />
<path d="M101.4 404.0 L104.6 408.4 L110.6 409.4 L113.2 412.6 L111.8 418.6" fill="none" stroke="#1c1c1c" stroke-width="0.80" stroke-linejoin="round" stroke-linecap="round" />
<path d="M110.6 409.4 L115.6 403.8 L120.4 404.2" fill="none" stroke="#1c1c1c" stroke-width="0.80" stroke-linejoin="round" stroke-linecap="round" />
<path d="M112.6 400.6 L116.6 404.6" fill="none" stroke="#1c1c1c" stroke-width="0.80" stroke-linejoin="round" stroke-linecap="round" />
<path d="M82.6 355.0 L84.6 362.0 L82.8 368.0 L84.8 376.0 L88.8 383.0" fill="none" stroke="#1c1c1c" stroke-width="0.68" stroke-linejoin="round" stroke-linecap="round" />
<path d="M85.0 357.6 L87.2 360.2 L85.6 364.6" fill="none" stroke="#1c1c1c" stroke-width="0.68" stroke-linejoin="round" stroke-linecap="round" />
</g>
<g id="p1">
<path d="M58.6 246.6 L60.8 245.4 L67.5 242.0 L68.2 244.7 L72.9 245.4 L81.0 250.1 L90.4 256.9 L96.5 263.6 L100.6 271.7 L103.9 281.1 L95.2 287.9 L94.5 291.9 L91.8 294.6 L90.4 302.7 L82.4 311.5 L78.0 312.4 L70.0 300.0 L62.0 270.0 Z" fill="#fff" stroke="#1c1c1c" stroke-width="1.03" stroke-linejoin="round" stroke-linecap="round" />
<path d="M62.4 247.6 L66.8 245.2 L69.4 249.0 L65.0 251.6 Z" fill="#444" stroke="#1c1c1c" stroke-width="0.68" stroke-linejoin="round" stroke-linecap="round" />
<path d="M66.0 252.4 L71.0 249.6 L73.6 253.4 L68.6 256.4 Z" fill="#555" stroke="#1c1c1c" stroke-width="0.68" stroke-linejoin="round" stroke-linecap="round" />
<path d="M70.4 256.6 L74.6 254.2 L76.6 257.4 L72.4 259.8 Z" fill="#666" stroke="#1c1c1c" stroke-width="0.68" stroke-linejoin="round" stroke-linecap="round" />
<path d="M72.9 245.4 L76.6 251.0 L83.7 256.9 L86.4 255.5 L89.1 259.6" fill="none" stroke="#1c1c1c" stroke-width="0.80" stroke-linejoin="round" stroke-linecap="round" />
<path d="M84.4 257.6 C85.6 255.6 88.4 256.2 88.2 258.6" fill="none" stroke="#1c1c1c" stroke-width="0.80" stroke-linejoin="round" stroke-linecap="round" />
<path d="M77.0 266.3 L89.1 259.6 L96.5 282.5 L95.2 287.9" fill="none" stroke="#1c1c1c" stroke-width="0.80" stroke-linejoin="round" stroke-linecap="round" />
<path d="M89.1 259.6 L90.4 256.9" fill="none" stroke="#1c1c1c" stroke-width="0.68" stroke-linejoin="round" stroke-linecap="round" />
<path d="M96.5 282.5 L103.2 279.2" fill="none" stroke="#1c1c1c" stroke-width="0.68" stroke-linejoin="round" stroke-linecap="round" />
<ellipse cx="85.2" cy="276.0" rx="0.7" ry="3.5" transform="rotate(8.0 85.2 276.0)" fill="none" stroke="#1c1c1c" stroke-width="0.91" />
<ellipse cx="87.6" cy="277.0" rx="0.7" ry="3.5" transform="rotate(8.0 87.6 277.0)" fill="none" stroke="#1c1c1c" stroke-width="0.91" />
<ellipse cx="90.0" cy="278.0" rx="0.7" ry="3.5" transform="rotate(8.0 90.0 278.0)" fill="none" stroke="#1c1c1c" stroke-width="0.91" />
<ellipse cx="92.4" cy="279.0" rx="0.7" ry="3.5" transform="rotate(8.0 92.4 279.0)" fill="none" stroke="#1c1c1c" stroke-width="0.91" />
<path d="M84.6 283.2 l7.6 -2.4" fill="none" stroke="#1c1c1c" stroke-width="1.14" stroke-linejoin="round" stroke-linecap="round" />
<path d="M85.4 286.1 l7.0 -2.4" fill="none" stroke="#1c1c1c" stroke-width="1.14" stroke-linejoin="round" stroke-linecap="round" />
<path d="M86.2 289.0 l6.4 -2.4" fill="none" stroke="#1c1c1c" stroke-width="1.14" stroke-linejoin="round" stroke-linecap="round" />
<path d="M87.0 291.9 l5.8 -2.4" fill="none" stroke="#1c1c1c" stroke-width="1.14" stroke-linejoin="round" stroke-linecap="round" />
<path d="M87.8 294.8 l5.2 -2.4" fill="none" stroke="#1c1c1c" stroke-width="1.14" stroke-linejoin="round" stroke-linecap="round" />
<path d="M86.0 297.2 L84.6 303.4 L90.0 300.6" fill="none" stroke="#1c1c1c" stroke-width="0.80" stroke-linejoin="round" stroke-linecap="round" />
</g>
<g id="p1f">
<path d="M55.4 244.8 C57.1 244.8 58.7 246.2 60.0 247.9 C61.3 249.6 61.9 252.5 63.1 255.1 C64.3 257.7 65.7 261.1 67.2 263.3 C68.7 265.5 70.4 266.9 72.3 268.4 C74.2 269.9 77.0 270.6 78.5 272.5 C80.0 274.4 80.8 276.8 81.6 279.7 C82.4 282.6 83.2 287.5 83.6 290.0 C83.9 292.5 83.8 293.1 83.7 294.7 C83.6 296.2 83.4 297.1 82.8 299.3 C82.2 301.5 80.9 305.7 80.2 308.0 C79.5 310.3 79.9 311.8 78.5 313.2 C77.1 314.6 73.6 315.6 71.6 316.7 C69.6 317.8 68.3 318.2 66.4 320.1 C64.5 322.0 61.9 325.9 60.3 327.9 C58.7 329.9 58.0 331.4 56.8 332.3 C55.6 333.2 54.2 333.4 52.9 333.1 C51.6 332.8 50.1 331.9 49.0 330.5 C47.9 329.1 47.9 327.4 46.4 324.5 C45.0 321.6 42.6 316.5 40.3 313.2 C38.0 309.9 34.5 307.0 32.5 304.5 C30.5 302.0 29.4 301.0 28.2 298.4 C27.1 295.8 26.1 292.5 25.6 288.9 C25.1 285.3 25.4 279.9 25.4 276.7 C25.4 273.4 25.2 271.3 25.6 269.4 C26.0 267.5 27.3 266.7 27.6 265.3 C27.8 263.9 25.6 262.7 27.1 261.2 C28.6 259.7 33.2 257.9 36.4 256.3 C39.6 254.7 43.9 252.9 46.1 251.5 C48.3 250.1 48.1 249.0 49.7 247.9 C51.3 246.8 53.7 244.8 55.4 244.8 Z" fill="#fff" stroke="#1c1c1c" stroke-width="1.03" stroke-linejoin="round" stroke-linecap="round" />
<path d="M29.2 259.7 L45.1 252.0" fill="none" stroke="#1c1c1c" stroke-width="0.68" stroke-linejoin="round" stroke-linecap="round" />
<path d="M27.6 261.7 L44.6 253.5" fill="none" stroke="#1c1c1c" stroke-width="0.68" stroke-linejoin="round" stroke-linecap="round" />
<ellipse cx="50.7" cy="254.5" rx="1.1" ry="2.2" transform="rotate(-20.0 50.7 254.5)" fill="#333" stroke="#1c1c1c" stroke-width="0.68" />
<path d="M47.7 252.0 L47.1 257.1 L51.8 260.7 L55.4 260.2 L56.9 255.1" fill="none" stroke="#1c1c1c" stroke-width="0.80" stroke-linejoin="round" stroke-linecap="round" />
<path d="M56.9 255.1 L60.0 267.4" fill="none" stroke="#1c1c1c" stroke-width="0.80" stroke-linejoin="round" stroke-linecap="round" />
<path d="M53.8 261.2 L63.1 275.6" fill="none" stroke="#1c1c1c" stroke-width="0.80" stroke-linejoin="round" stroke-linecap="round" />
<path d="M44.6 260.2 L56.9 275.6" fill="none" stroke="#1c1c1c" stroke-width="0.91" stroke-linejoin="round" stroke-linecap="round" />
<path d="M58.4 254.7 L62.2 266.7" fill="none" stroke="#1c1c1c" stroke-width="0.57" stroke-linejoin="round" stroke-linecap="round" />
<path d="M56.9 275.6 L76.4 274.6" fill="none" stroke="#1c1c1c" stroke-width="0.91" stroke-linejoin="round" stroke-linecap="round" />
<path d="M64.1 277.7 L76.9 275.6" fill="none" stroke="#1c1c1c" stroke-width="0.80" stroke-linejoin="round" stroke-linecap="round" />
<path d="M65.1 280.2 L76.4 277.1 L76.4 274.6" fill="none" stroke="#1c1c1c" stroke-width="0.80" stroke-linejoin="round" stroke-linecap="round" />
<path d="M33.3 264.3 L37.4 262.2 L36.4 266.3" fill="none" stroke="#1c1c1c" stroke-width="0.91" stroke-linejoin="round" stroke-linecap="round" />
<path d="M40.5 263.2 L38.9 267.9" fill="none" stroke="#1c1c1c" stroke-width="0.91" stroke-linejoin="round" stroke-linecap="round" />
<path d="M43.5 264.8 L42.0 269.4" fill="none" stroke="#1c1c1c" stroke-width="0.91" stroke-linejoin="round" stroke-linecap="round" />
<path d="M46.6 266.3 L45.1 271.0" fill="none" stroke="#1c1c1c" stroke-width="0.91" stroke-linejoin="round" stroke-linecap="round" />
<path d="M29.7 267.4 L33.3 264.3" fill="none" stroke="#1c1c1c" stroke-width="0.68" stroke-linejoin="round" stroke-linecap="round" />
<ellipse cx="42.6" cy="293.3" rx="13.6" ry="21.0" transform="rotate(-27.0 42.6 293.3)" fill="none" stroke="#1c1c1c" stroke-width="0.91" />
<ellipse cx="42.4" cy="293.7" rx="11.6" ry="18.4" transform="rotate(-27.0 42.4 293.7)" fill="none" stroke="#1c1c1c" stroke-width="0.68" />
<path d="M30.2 293.0 L29.6 285.2 L33.4 289.7 L33.5 292.3 Z" fill="none" stroke="#1c1c1c" stroke-width="0.80" stroke-linejoin="round" stroke-linecap="round" />
<path d="M31.3 280.4 L35.7 277.1 L37.0 283.7 L35.4 284.7 Z" fill="none" stroke="#1c1c1c" stroke-width="0.80" stroke-linejoin="round" stroke-linecap="round" />
<path d="M40.3 277.3 L46.5 280.9 L44.1 285.0 L42.0 283.8 Z" fill="none" stroke="#1c1c1c" stroke-width="0.80" stroke-linejoin="round" stroke-linecap="round" />
<path d="M50.8 285.9 L54.4 293.8 L49.7 292.9 L48.6 290.3 Z" fill="none" stroke="#1c1c1c" stroke-width="0.80" stroke-linejoin="round" stroke-linecap="round" />
<path d="M55.3 300.1 L53.7 306.7 L49.8 301.6 L50.4 299.5 Z" fill="none" stroke="#1c1c1c" stroke-width="0.80" stroke-linejoin="round" stroke-linecap="round" />
<path d="M49.7 310.1 L43.8 309.9 L43.6 304.9 L45.6 304.9 Z" fill="none" stroke="#1c1c1c" stroke-width="0.80" stroke-linejoin="round" stroke-linecap="round" />
<path d="M37.8 306.1 L32.7 299.3 L36.0 299.0 L37.7 301.2 Z" fill="none" stroke="#1c1c1c" stroke-width="0.80" stroke-linejoin="round" stroke-linecap="round" />
<ellipse cx="42.0" cy="294.1" rx="7.4" ry="11.4" transform="rotate(-27.0 42.0 294.1)" fill="#fff" stroke="#1c1c1c" stroke-width="1.03" />
<ellipse cx="41.6" cy="294.3" rx="4.7" ry="8.2" transform="rotate(-27.0 41.6 294.3)" fill="none" stroke="#1c1c1c" stroke-width="0.91" />
<path d="M40.0 286.7 C44.6 289.1 46.6 295.7 45.4 301.3" fill="none" stroke="#1c1c1c" stroke-width="0.68" stroke-linejoin="round" stroke-linecap="round" />
<path d="M63.1 275.6 C62.9 276.6 62.4 279.2 62.2 281.7 C62.0 284.2 61.9 287.3 62.0 290.6 C62.1 293.9 62.4 298.2 62.8 301.7 C63.2 305.2 63.8 308.6 64.4 311.7 C65.0 314.8 66.1 318.7 66.4 320.1" fill="none" stroke="#1c1c1c" stroke-width="0.91" stroke-linejoin="round" stroke-linecap="round" />
<ellipse cx="65.2" cy="288.1" rx="0.8" ry="3.7" transform="rotate(8.0 65.2 288.1)" fill="none" stroke="#1c1c1c" stroke-width="0.91" />
<ellipse cx="67.7" cy="289.0" rx="0.8" ry="3.7" transform="rotate(8.0 67.7 289.0)" fill="none" stroke="#1c1c1c" stroke-width="0.91" />
<ellipse cx="70.2" cy="289.9" rx="0.8" ry="3.7" transform="rotate(8.0 70.2 289.9)" fill="none" stroke="#1c1c1c" stroke-width="0.91" />
<ellipse cx="72.7" cy="290.8" rx="0.8" ry="3.7" transform="rotate(8.0 72.7 290.8)" fill="none" stroke="#1c1c1c" stroke-width="0.91" />
<ellipse cx="75.2" cy="291.7" rx="0.8" ry="3.7" transform="rotate(8.0 75.2 291.7)" fill="none" stroke="#1c1c1c" stroke-width="0.91" />
<path d="M64.0 296.3 l9.0 -2.6" fill="none" stroke="#1c1c1c" stroke-width="1.14" stroke-linejoin="round" stroke-linecap="round" />
<path d="M64.9 299.5 l8.3 -2.5" fill="none" stroke="#1c1c1c" stroke-width="1.14" stroke-linejoin="round" stroke-linecap="round" />
<path d="M65.8 302.7 l7.6 -2.4" fill="none" stroke="#1c1c1c" stroke-width="1.14" stroke-linejoin="round" stroke-linecap="round" />
<path d="M66.7 305.9 l6.9 -2.2" fill="none" stroke="#1c1c1c" stroke-width="1.14" stroke-linejoin="round" stroke-linecap="round" />
<path d="M67.6 309.1 l6.2 -2.1" fill="none" stroke="#1c1c1c" stroke-width="1.14" stroke-linejoin="round" stroke-linecap="round" />
<path d="M75.9 307.1 L77.6 310.6 L80.2 308.0" fill="none" stroke="#1c1c1c" stroke-width="0.80" stroke-linejoin="round" stroke-linecap="round" />
<path d="M76.8 312.3 L66.4 318.3" fill="none" stroke="#1c1c1c" stroke-width="1.37" stroke-linejoin="round" stroke-linecap="round" />
<ellipse cx="52.1" cy="326.6" rx="2.2" ry="3.0" transform="rotate(-15.0 52.1 326.6)" fill="none" stroke="#1c1c1c" stroke-width="0.91" />
<path d="M46.4 317.7 L49.6 322.1 L55.6 323.1 L58.2 326.3 L56.8 332.3" fill="none" stroke="#1c1c1c" stroke-width="0.80" stroke-linejoin="round" stroke-linecap="round" />
<path d="M55.6 323.1 L60.6 317.5 L65.4 317.9" fill="none" stroke="#1c1c1c" stroke-width="0.80" stroke-linejoin="round" stroke-linecap="round" />
<path d="M57.6 314.3 L61.6 318.3" fill="none" stroke="#1c1c1c" stroke-width="0.80" stroke-linejoin="round" stroke-linecap="round" />
<path d="M27.6 268.7 L29.6 275.7 L27.8 281.7 L29.8 289.7 L33.8 296.7" fill="none" stroke="#1c1c1c" stroke-width="0.68" stroke-linejoin="round" stroke-linecap="round" />
<path d="M30.0 271.3 L32.2 273.9 L30.6 278.3" fill="none" stroke="#1c1c1c" stroke-width="0.68" stroke-linejoin="round" stroke-linecap="round" />
</g>
<g id="p1b">
<path d="M63.5 255.5 C64.6 256.2 68.2 258.0 70.0 259.6 C71.8 261.2 72.9 262.9 74.3 265.0 C75.7 267.1 77.4 269.6 78.4 272.0 C79.5 274.4 79.9 276.1 80.6 279.4 C81.3 282.7 82.2 288.5 82.4 291.9 C82.6 295.3 82.1 297.4 81.6 300.0 C81.1 302.6 79.9 306.2 79.6 307.4" fill="none" stroke="#1c1c1c" stroke-width="1.71" stroke-linejoin="round" stroke-linecap="round" />
<path d="M65.5 254.4 C66.6 255.1 70.2 257.0 72.0 258.6 C73.8 260.2 75.0 261.9 76.4 264.0 C77.8 266.1 79.3 268.4 80.4 271.0 C81.5 273.6 82.1 275.9 82.8 279.4 C83.5 282.9 84.1 289.8 84.4 291.9" fill="none" stroke="#1c1c1c" stroke-width="0.68" stroke-linejoin="round" stroke-linecap="round" />
<ellipse cx="36.4" cy="297.4" rx="12.8" ry="17.2" transform="rotate(-29.0 36.4 297.4)" fill="#fff" stroke="#1c1c1c" stroke-width="1.25" />
<path d="M40.5 314.3 L43.9 312.8 L28.9 282.0 L25.5 283.5 Z" fill="#fff" stroke="none" stroke-width="0.00" stroke-linejoin="round" stroke-linecap="round" />
<path d="M40.5 314.3 l3.4 -1.5 M25.5 283.5 l3.4 -1.5" fill="none" stroke="#1c1c1c" stroke-width="1.25" stroke-linejoin="round" stroke-linecap="round" />
<ellipse cx="33.0" cy="298.9" rx="12.8" ry="17.2" transform="rotate(-29.0 33.0 298.9)" fill="#fff" stroke="#1c1c1c" stroke-width="1.25" />
<ellipse cx="33.2" cy="298.9" rx="11.7" ry="16.0" transform="rotate(-29.0 33.2 298.9)" fill="none" stroke="#1c1c1c" stroke-width="0.57" />
<path d="M27.4 288.6 C31.6 290.6 36.8 298 37.4 307.6" fill="none" stroke="#1c1c1c" stroke-width="0.68" stroke-linejoin="round" stroke-linecap="round" />
<ellipse cx="32.6" cy="299.4" rx="4.6" ry="5.8" transform="rotate(-29.0 32.6 299.4)" fill="#fff" stroke="#1c1c1c" stroke-width="1.71" />
<ellipse cx="32.4" cy="299.4" rx="2.5" ry="3.2" transform="rotate(-29.0 32.4 299.4)" fill="#999" stroke="#1c1c1c" stroke-width="1.14" />
<ellipse cx="32.4" cy="299.4" rx="1.0" ry="1.3" transform="rotate(-29.0 32.4 299.4)" fill="#333" stroke="#1c1c1c" stroke-width="0.91" />
<path d="M29.6 296.2 l2 1.6 M35.4 297.6 l-1.4 1.2 M31.6 303.4 l0.8 -1.6" fill="none" stroke="#1c1c1c" stroke-width="0.80" stroke-linejoin="round" stroke-linecap="round" />
</g>
<g id="p6">
<path d="M72.9 520.1 C71.0 520.4 67.2 521.5 65.4 523.9 C63.6 526.3 62.9 531.5 62.3 534.5 C61.7 537.5 61.9 539.5 62.0 542.0 C62.1 544.5 62.3 546.2 62.9 549.6 C63.5 553.0 64.6 559.2 65.4 562.1 C66.2 565.0 66.3 565.4 67.9 567.1 C69.5 568.8 71.6 570.0 74.8 572.1 C78.0 574.2 82.7 577.3 87.3 579.6 C91.9 581.9 99.3 584.9 102.3 585.9 C105.3 586.9 104.9 586.7 105.5 585.9 C106.1 585.1 104.8 582.4 106.1 580.9 C107.4 579.4 112.1 578.4 113.6 577.1 C115.1 575.9 114.3 575.5 114.9 573.4 C115.5 571.3 117.0 567.3 117.4 564.6 C117.8 561.9 117.6 559.5 117.4 557.0 C117.2 554.5 116.8 552.5 116.1 549.6 C115.4 546.7 113.8 542.2 113.0 539.5 C112.2 536.8 112.0 534.5 111.1 533.3 C110.1 532.0 108.6 533.2 107.3 532.0 C106.0 530.8 104.7 527.9 103.0 526.0 C101.3 524.1 99.5 522.4 97.3 520.8 C95.1 519.2 92.5 516.5 89.8 516.4 C87.1 516.3 83.2 519.2 81.0 520.1 C78.8 521.0 78.0 522.0 76.7 522.0 C75.4 522.0 74.8 519.8 72.9 520.1 Z" fill="#fff" stroke="#1c1c1c" stroke-width="1.03" stroke-linejoin="round" stroke-linecap="round" />
<path d="M76.7 523.6 C77.1 524.2 77.3 525.8 79.2 527.0 C81.1 528.2 85.0 528.9 88.0 530.6 C91.0 532.3 94.8 534.6 97.3 537.0 C99.8 539.4 101.5 542.3 103.0 545.0 C104.5 547.7 105.3 550.5 106.1 553.3 C106.9 556.1 107.6 558.9 107.8 562.0 C108.0 565.1 107.7 568.9 107.3 572.1 C106.9 575.3 105.9 579.5 105.6 581.0" fill="none" stroke="#1c1c1c" stroke-width="0.91" stroke-linejoin="round" stroke-linecap="round" />
<path d="M66.4 525.0 C66.1 526.6 64.6 530.4 64.4 534.5 C64.2 538.6 64.5 545.2 65.0 549.6 C65.5 554.0 66.5 558.1 67.4 561.0 C68.3 563.9 69.0 565.3 70.4 567.0 C71.8 568.7 73.1 569.2 76.0 571.0 C78.9 572.8 83.7 575.8 88.0 578.0 C92.3 580.2 99.7 583.0 102.0 584.0" fill="none" stroke="#1c1c1c" stroke-width="0.68" stroke-linejoin="round" stroke-linecap="round" />
<path d="M87.6 521.2 L90.0 520.0 L91.5 522.6 L89.1 523.8 Z" fill="#555" stroke="#1c1c1c" stroke-width="0.57" stroke-linejoin="round" stroke-linecap="round" />
<path d="M90.7 523.4 L93.1 522.2 L94.6 524.8 L92.2 526.0 Z" fill="#555" stroke="#1c1c1c" stroke-width="0.57" stroke-linejoin="round" stroke-linecap="round" />
<path d="M93.8 525.6 L96.2 524.4 L97.7 527.0 L95.3 528.2 Z" fill="#555" stroke="#1c1c1c" stroke-width="0.57" stroke-linejoin="round" stroke-linecap="round" />
<path d="M96.9 527.8 L99.3 526.6 L100.8 529.2 L98.4 530.4 Z" fill="#555" stroke="#1c1c1c" stroke-width="0.57" stroke-linejoin="round" stroke-linecap="round" />
<path d="M83.0 521.4 L89.8 518.0 L101.5 528.6 L107.3 532.0" fill="none" stroke="#1c1c1c" stroke-width="0.68" stroke-linejoin="round" stroke-linecap="round" />
<ellipse cx="91.7" cy="551.4" rx="7.0" ry="9.6" transform="rotate(-30.0 91.7 551.4)" fill="#fff" stroke="#1c1c1c" stroke-width="1.03" />
<ellipse cx="92.2" cy="551.6" rx="4.6" ry="7.0" transform="rotate(-30.0 92.2 551.6)" fill="none" stroke="#1c1c1c" stroke-width="0.91" />
<path d="M88.6 545.6 C91.6 546.2 95.4 551.4 95 557.6" fill="none" stroke="#1c1c1c" stroke-width="0.68" stroke-linejoin="round" stroke-linecap="round" />
<path d="M83.6 536.6 C84.4 535.2 85.6 534.4 86.7 534.4 C87.8 534.4 88.7 535.3 90.4 536.4 C92.1 537.5 95.2 539.1 97.0 541.0 C98.8 542.9 99.9 545.1 101.2 548.0 C102.5 550.9 103.9 556.0 104.6 558.6 C105.3 561.2 105.6 562.2 105.2 563.6 C104.8 565.0 103.5 566.5 102.4 566.8 C101.3 567.1 100.1 566.1 98.6 565.6 C97.1 565.1 95.6 564.7 93.6 563.6 C91.6 562.5 88.4 561.1 86.6 559.0 C84.8 556.9 83.6 553.7 82.8 551.0 C82.0 548.3 81.9 545.4 82.0 543.0 C82.1 540.6 82.8 538.0 83.6 536.6 Z" fill="none" stroke="#1c1c1c" stroke-width="0.91" stroke-linejoin="round" stroke-linecap="round" />
<ellipse cx="86.4" cy="537.6" rx="2.4" ry="2.8" transform="rotate(-30.0 86.4 537.6)" fill="none" stroke="#1c1c1c" stroke-width="0.80" />
<ellipse cx="101.9" cy="562.9" rx="2.6" ry="3.0" transform="rotate(-30.0 101.9 562.9)" fill="none" stroke="#1c1c1c" stroke-width="1.03" />
<ellipse cx="71.2" cy="562.6" rx="2.9" ry="3.4" transform="rotate(-20.0 71.2 562.6)" fill="#fff" stroke="#1c1c1c" stroke-width="0.91" />
<ellipse cx="72.4" cy="562.4" rx="1.2" ry="1.5" transform="rotate(-20.0 72.4 562.4)" fill="#777" stroke="#1c1c1c" stroke-width="0.91" />
<path d="M74.6 560.6 L78.4 559.2" fill="none" stroke="#1c1c1c" stroke-width="0.68" stroke-linejoin="round" stroke-linecap="round" />
<path d="M75.4 565.2 L78.0 567.4" fill="none" stroke="#1c1c1c" stroke-width="0.68" stroke-linejoin="round" stroke-linecap="round" />
<path d="M68.2 532.6 q0.6 3.6 3.2 1.6 q1.6 -1.4 4.2 -2.6" fill="none" stroke="#1c1c1c" stroke-width="1.14" stroke-linejoin="round" stroke-linecap="round" />
<path d="M72.8 532.8 l1.0 1.6" fill="none" stroke="#1c1c1c" stroke-width="0.80" stroke-linejoin="round" stroke-linecap="round" />
<path d="M69.2 536.2 q0.6 3.6 3.2 1.6 q1.6 -1.4 4.2 -2.6" fill="none" stroke="#1c1c1c" stroke-width="1.14" stroke-linejoin="round" stroke-linecap="round" />
<path d="M73.8 536.4 l1.0 1.6" fill="none" stroke="#1c1c1c" stroke-width="0.80" stroke-linejoin="round" stroke-linecap="round" />
<path d="M70.1 539.8 q0.6 3.6 3.2 1.6 q1.6 -1.4 4.2 -2.6" fill="none" stroke="#1c1c1c" stroke-width="1.14" stroke-linejoin="round" stroke-linecap="round" />
<path d="M74.7 540.0 l1.0 1.6" fill="none" stroke="#1c1c1c" stroke-width="0.80" stroke-linejoin="round" stroke-linecap="round" />
<path d="M71.0 543.4 q0.6 3.6 3.2 1.6 q1.6 -1.4 4.2 -2.6" fill="none" stroke="#1c1c1c" stroke-width="1.14" stroke-linejoin="round" stroke-linecap="round" />
<path d="M75.6 543.6 l1.0 1.6" fill="none" stroke="#1c1c1c" stroke-width="0.80" stroke-linejoin="round" stroke-linecap="round" />
<path d="M72.0 547.0 q0.6 3.6 3.2 1.6 q1.6 -1.4 4.2 -2.6" fill="none" stroke="#1c1c1c" stroke-width="1.14" stroke-linejoin="round" stroke-linecap="round" />
<path d="M76.6 547.2 l1.0 1.6" fill="none" stroke="#1c1c1c" stroke-width="0.80" stroke-linejoin="round" stroke-linecap="round" />
<path d="M73.0 550.6 q0.6 3.6 3.2 1.6 q1.6 -1.4 4.2 -2.6" fill="none" stroke="#1c1c1c" stroke-width="1.14" stroke-linejoin="round" stroke-linecap="round" />
<path d="M77.5 550.8 l1.0 1.6" fill="none" stroke="#1c1c1c" stroke-width="0.80" stroke-linejoin="round" stroke-linecap="round" />
<path d="M78.4 551.4 L79.0 556.4" fill="none" stroke="#1c1c1c" stroke-width="0.91" stroke-linejoin="round" stroke-linecap="round" />
<ellipse cx="82.4" cy="567.2" rx="1.1" ry="2.8" transform="rotate(-24.0 82.4 567.2)" fill="none" stroke="#1c1c1c" stroke-width="1.03" />
<ellipse cx="85.5" cy="569.0" rx="1.1" ry="2.8" transform="rotate(-24.0 85.5 569.0)" fill="none" stroke="#1c1c1c" stroke-width="1.03" />
<ellipse cx="88.5" cy="570.7" rx="1.1" ry="2.8" transform="rotate(-24.0 88.5 570.7)" fill="none" stroke="#1c1c1c" stroke-width="1.03" />
<ellipse cx="91.6" cy="572.5" rx="1.1" ry="2.8" transform="rotate(-24.0 91.6 572.5)" fill="none" stroke="#1c1c1c" stroke-width="1.03" />
<ellipse cx="94.6" cy="574.2" rx="1.1" ry="2.8" transform="rotate(-24.0 94.6 574.2)" fill="none" stroke="#1c1c1c" stroke-width="1.03" />
<ellipse cx="97.7" cy="576.0" rx="1.1" ry="2.8" transform="rotate(-24.0 97.7 576.0)" fill="none" stroke="#1c1c1c" stroke-width="1.03" />
<path d="M108.6 547.6 l5.4 -2.3" stroke="#1c1c1c" stroke-width="0.9" fill="none"/>
<path d="M109.1 550.2 l5.4 -2.3" stroke="#1c1c1c" stroke-width="0.9" fill="none"/>
<path d="M109.7 552.8 l5.4 -2.3" stroke="#1c1c1c" stroke-width="0.9" fill="none"/>
<path d="M110.2 555.4 l5.4 -2.3" stroke="#1c1c1c" stroke-width="0.9" fill="none"/>
<path d="M110.8 558.0 l5.4 -2.3" stroke="#1c1c1c" stroke-width="0.9" fill="none"/>
<path d="M111.3 560.6 l5.4 -2.3" stroke="#1c1c1c" stroke-width="0.9" fill="none"/>
<path d="M111.9 563.2 l5.4 -2.3" stroke="#1c1c1c" stroke-width="0.9" fill="none"/>
<path d="M112.4 565.8 l5.4 -2.3" stroke="#1c1c1c" stroke-width="0.9" fill="none"/>
<path d="M107.3 545.0 C107.5 546.8 108.2 552.2 108.6 556.0 C109.0 559.8 109.8 564.5 109.8 568.0 C109.8 571.5 108.6 575.5 108.4 577.0" fill="none" stroke="#1c1c1c" stroke-width="0.80" stroke-linejoin="round" stroke-linecap="round" />
<path d="M106.1 580.9 L105.8 575.0" fill="none" stroke="#1c1c1c" stroke-width="0.68" stroke-linejoin="round" stroke-linecap="round" />
<path d="M101.1 538.9 L103.6 537.0" fill="none" stroke="#1c1c1c" stroke-width="0.68" stroke-linejoin="round" stroke-linecap="round" />
<path d="M82.6 555.3 Q81.9 555.6 81.1 555.7 M72.2 552.7 Q71.4 553.4 71.4 554.5 M72.4 537.5 Q73.1 538.0 74.0 537.7 M85.2 559.9 Q85.2 560.5 85.2 561.7 M77.3 536.9 Q77.9 537.2 78.0 537.7 M68.9 527.4 Q68.5 527.7 68.0 528.1 M72.4 565.0 Q72.9 565.3 74.1 565.7 M73.3 539.1 Q72.1 539.6 71.3 539.3 M73.2 546.1 Q72.0 547.0 71.6 546.9 M73.3 538.5 Q72.6 538.5 72.3 539.4 M68.5 556.6 Q69.0 557.2 69.8 557.8 M72.1 532.6 Q70.9 532.6 70.2 533.2 M93.8 576.7 Q95.1 577.4 95.6 577.9 M74.3 563.5 Q75.1 564.0 75.7 564.9 M71.8 564.3 Q72.5 564.8 73.1 564.6 M71.9 544.7 Q71.6 545.6 71.6 545.8 " fill="none" stroke="#1c1c1c" stroke-width="0.75" stroke-linecap="round"/>
</g>
<g id="p7">
<path d="M125.6 488.6 V506 H128.0 V488.6 Z" fill="#fff" stroke="#1c1c1c" stroke-width="0.80" stroke-linejoin="round" stroke-linecap="round" />
<path d="M125.6 490 h2.4 M125.6 491.6 h2.4 M125.6 493.2 h2.4 M125.6 494.8 h2.4 M125.6 496.4 h2.4 M125.6 498 h2.4 M125.6 499.6 h2.4 M125.6 501.2 h2.4" fill="none" stroke="#1c1c1c" stroke-width="0.57" stroke-linejoin="round" stroke-linecap="round" />
<path d="M110.2 514.6 L119.7 506.1 L125.0 504.6 L129.9 505.6 L132.1 509.5 L130.4 518.5 L135.5 525.2 L141.1 529.7 L146.2 528.0 L146.7 532.0 L151.2 534.2 L151.8 538.7 L149.0 543.2 L142.2 547.7 L134.4 546.6 L129.3 542.1 L122.6 543.2 L121.4 541.0 L125.4 538.2 L120.9 533.1 L118.6 527.5 L113.0 528.6 L114.1 525.2 L116.4 522.4 L114.7 516.2 Z" fill="#fff" stroke="#1c1c1c" stroke-width="1.03" stroke-linejoin="round" stroke-linecap="round" />
<path d="M114.7 516.2 L120.4 512.4 L123.6 515.6 L121.6 521.4 L116.4 522.4" fill="none" stroke="#1c1c1c" stroke-width="0.80" stroke-linejoin="round" stroke-linecap="round" />
<path d="M119.7 506.1 L122.4 510.4 L127.6 508.2 L129.9 505.6" fill="none" stroke="#1c1c1c" stroke-width="0.80" stroke-linejoin="round" stroke-linecap="round" />
<ellipse cx="125.4" cy="511.4" rx="1.8" ry="2.4" transform="rotate(0.0 125.4 511.4)" fill="none" stroke="#1c1c1c" stroke-width="0.91" />
<path d="M123.6 515.6 L128.4 517.6 L130.4 518.5" fill="none" stroke="#1c1c1c" stroke-width="0.80" stroke-linejoin="round" stroke-linecap="round" />
<path d="M121.6 521.4 L126.4 524.6 L131.4 524.2 L135.5 525.2" fill="none" stroke="#1c1c1c" stroke-width="0.80" stroke-linejoin="round" stroke-linecap="round" />
<path d="M118.6 527.5 L123.4 526.6 L126.4 524.6" fill="none" stroke="#1c1c1c" stroke-width="0.80" stroke-linejoin="round" stroke-linecap="round" />
<path d="M120.9 533.1 L125.6 530.4 L130.6 532.4 L133.4 537.4 L129.3 542.1" fill="none" stroke="#1c1c1c" stroke-width="0.91" stroke-linejoin="round" stroke-linecap="round" />
<path d="M130.6 532.4 L136.4 531.0 L141.1 529.7" fill="none" stroke="#1c1c1c" stroke-width="0.80" stroke-linejoin="round" stroke-linecap="round" />
<path d="M133.4 537.4 L139.4 536.4 L143.6 539.6 L142.2 547.7" fill="none" stroke="#1c1c1c" stroke-width="0.91" stroke-linejoin="round" stroke-linecap="round" />
<path d="M139.4 536.4 L141.4 532.6 L146.7 532.0" fill="none" stroke="#1c1c1c" stroke-width="0.80" stroke-linejoin="round" stroke-linecap="round" />
<path d="M143.6 539.6 L148.4 538.2 L151.8 538.7" fill="none" stroke="#1c1c1c" stroke-width="0.80" stroke-linejoin="round" stroke-linecap="round" />
<ellipse cx="137.6" cy="541.6" rx="2.6" ry="2.0" transform="rotate(20.0 137.6 541.6)" fill="none" stroke="#1c1c1c" stroke-width="1.03" />
<ellipse cx="146.6" cy="536.0" rx="1.4" ry="1.1" transform="rotate(0.0 146.6 536.0)" fill="none" stroke="#1c1c1c" stroke-width="0.91" />
<ellipse cx="128.0" cy="528.2" rx="1.6" ry="1.2" transform="rotate(0.0 128.0 528.2)" fill="none" stroke="#1c1c1c" stroke-width="0.91" />
<ellipse cx="124.0" cy="540.8" rx="1.6" ry="1.3" transform="rotate(0.0 124.0 540.8)" fill="#fff" stroke="#1c1c1c" stroke-width="1.14" />
<path d="M126 518.6 l3 2.6 M127.6 520.4 l-2.4 2 M131.6 527 l3.4 1.4 M135.4 533.6 l2 2.4 M138.8 544.4 l3 -0.6 M133.6 543.8 l2.6 -1.6 M122.6 529.4 l2 2.8 M145.6 541.6 l2.4 1.2 M117.4 518.4 l2.6 1.4" fill="none" stroke="#1c1c1c" stroke-width="1.03" stroke-linejoin="round" stroke-linecap="round" />
<path d="M112.4 516 l3.6 -3.2 M146.2 528 l1.8 -2.2 l1 2.8" fill="none" stroke="#1c1c1c" stroke-width="0.80" stroke-linejoin="round" stroke-linecap="round" />
<path d="M123.7 511.1 Q123.5 511.5 123.2 512.1 M112.7 513.5 Q112.0 514.3 111.8 514.9 M129.1 517.5 Q128.0 518.2 127.4 518.8 M132.0 542.3 Q132.0 542.5 131.1 543.4 M127.6 537.2 Q127.9 537.8 129.2 538.1 M139.1 530.2 Q139.2 531.5 138.7 531.9 M129.9 533.2 Q131.1 533.9 132.0 533.6 M121.8 522.5 Q122.8 523.2 122.8 524.7 M117.5 514.6 Q118.3 515.0 118.9 515.8 M149.8 534.4 Q150.0 534.9 149.8 536.3 M147.6 538.2 Q146.5 538.6 145.5 539.1 M118.9 511.6 Q118.6 511.7 119.4 512.5 M125.3 509.9 Q124.2 510.5 123.0 511.1 M121.1 520.4 Q122.1 521.2 123.0 521.5 M123.9 514.2 Q123.2 515.2 121.8 515.7 M144.2 536.5 Q144.8 536.6 145.6 537.7 M118.4 513.4 Q118.3 514.5 117.5 515.7 M137.4 539.1 Q138.8 539.6 139.3 539.6 M124.8 528.2 Q125.7 528.6 125.7 528.7 M134.5 543.6 Q134.8 544.8 135.1 546.0 M133.3 538.4 Q134.0 538.5 135.1 539.0 M131.5 534.5 Q131.6 535.8 131.8 536.3 M139.3 542.4 Q138.7 542.9 137.9 542.6 M113.2 515.0 Q114.5 515.6 115.2 515.4 M126.8 525.6 Q125.3 525.6 124.4 525.7 M121.5 510.2 Q122.1 511.1 122.0 512.6 M129.1 519.2 Q128.6 520.1 128.7 521.7 M130.8 540.6 Q131.3 541.9 131.4 542.3 M124.5 540.5 Q123.8 541.1 123.2 542.1 M120.8 511.6 Q122.3 512.1 123.1 512.3 M121.9 515.0 Q122.1 515.7 123.0 516.4 M118.6 526.4 Q118.9 526.3 120.0 526.4 M134.6 527.4 Q134.0 528.5 133.1 528.9 M126.4 518.7 Q126.0 518.8 125.2 518.7 M140.7 539.6 Q141.6 540.3 142.4 540.4 M143.7 540.2 Q143.5 541.6 143.0 542.6 M136.3 533.9 Q136.6 534.7 136.3 534.9 M131.1 527.7 Q131.1 527.9 130.6 528.6 M130.1 534.1 Q129.5 534.3 128.6 535.4 M116.3 515.5 Q115.9 515.6 115.3 516.6 M129.6 509.7 Q129.5 510.4 128.4 510.1 M147.1 534.9 Q148.0 535.2 148.9 536.5 M148.7 535.3 Q147.9 535.4 147.3 535.8 M121.6 506.7 Q122.5 507.5 123.9 507.4 M120.6 516.1 Q120.4 517.2 120.5 517.4 M147.0 539.6 Q146.9 540.8 146.0 541.9 M141.5 532.4 Q142.3 532.4 142.2 533.2 M129.8 519.4 Q131.0 520.1 131.1 521.2 M117.2 511.6 Q118.1 512.0 119.1 513.1 M118.2 508.5 Q118.2 508.8 118.7 509.5 M133.9 542.8 Q133.2 543.5 132.7 544.0 M125.9 519.2 Q127.1 518.9 127.3 519.5 M131.1 531.7 Q130.3 531.8 129.9 532.3 M126.8 523.8 Q126.0 523.5 124.5 524.2 M144.5 541.5 Q143.5 541.2 143.2 541.6 M131.9 534.0 Q131.0 534.5 129.8 534.4 M129.2 528.4 Q130.1 528.9 131.5 528.6 M136.7 534.7 Q137.2 535.0 137.7 535.1 M126.3 514.2 Q126.0 514.7 126.0 515.2 M120.0 515.2 Q118.7 514.9 117.9 515.5 M130.9 533.7 Q131.3 534.8 131.3 535.0 M119.5 522.6 Q118.5 523.6 118.2 524.8 " fill="none" stroke="#1c1c1c" stroke-width="0.90" stroke-linecap="round"/>
</g>
<g id="pn">
<ellipse cx="133.4" cy="555.6" rx="3.2" ry="3.4" transform="rotate(0.0 133.4 555.6)" fill="#fff" stroke="#1c1c1c" stroke-width="1.03" />
<ellipse cx="133.0" cy="555.4" rx="1.9" ry="2.1" transform="rotate(0.0 133.0 555.4)" fill="#aaa" stroke="#1c1c1c" stroke-width="1.03" />
<path d="M118.6 549.4 L123.7 547.2" fill="none" stroke="#1c1c1c" stroke-width="1.03" stroke-linejoin="round" stroke-linecap="round" />
</g>
<g id="p14">
<path d="M121.2 473 L121.4 481.6 L122.8 482.4 L123 485.4 C124.6 486.6 126.6 486.6 128.2 485.4 L128.2 482.4 L129.4 481.6 L129.6 473 Z" fill="#fff" stroke="#1c1c1c" stroke-width="0.91" stroke-linejoin="round" stroke-linecap="round" />
<ellipse cx="125.4" cy="473.0" rx="4.2" ry="2.0" transform="rotate(0.0 125.4 473.0)" fill="#fff" stroke="#1c1c1c" stroke-width="0.91" />
<ellipse cx="125.4" cy="473.1" rx="2.8" ry="1.2" transform="rotate(0.0 125.4 473.1)" fill="none" stroke="#1c1c1c" stroke-width="0.80" />
<path d="M122.8 482.4 C124.6 483.6 126.6 483.6 128.2 482.4 M123.4 476 v5 M127.6 476 v5" fill="none" stroke="#1c1c1c" stroke-width="0.68" stroke-linejoin="round" stroke-linecap="round" />
</g>
<g id="p16">
<path d="M122.4 461.6 L124.2 459.4 L127.4 459.2 L129.6 461.2 L129.4 464.0 L127.2 465.6 L124.2 465.4 L122.6 463.6 Z" fill="#bbb" stroke="#1c1c1c" stroke-width="1.03" stroke-linejoin="round" stroke-linecap="round" />
<ellipse cx="125.6" cy="462.2" rx="2.0" ry="1.5" transform="rotate(-10.0 125.6 462.2)" fill="#fff" stroke="#1c1c1c" stroke-width="0.91" />
<path d="M123.4 463.6 l5 -3.4 M124.4 464.8 l4.4 -3" fill="none" stroke="#1c1c1c" stroke-width="0.68" stroke-linejoin="round" stroke-linecap="round" />
</g>
<g id="p15">
<path d="M117.6 577.6 L130.6 570.2 L132 573.2 L119 580.6 C117.6 580.8 116.8 578.8 117.6 577.6 Z" fill="#fff" stroke="#1c1c1c" stroke-width="0.91" stroke-linejoin="round" stroke-linecap="round" />
<path d="M119.2 577.2 l1.4 2.6 M120.8 576.2 l1.4 2.6 M122.4 575.4 l1.4 2.6 M124 574.4 l1.4 2.6 M125.6 573.6 l1.4 2.6" fill="none" stroke="#1c1c1c" stroke-width="0.57" stroke-linejoin="round" stroke-linecap="round" />
<path d="M130.4 568.4 L133.4 566.6 L136.6 567.2 L137.8 570.0 L137.2 573.2 L134.0 575.0 L131.4 574.2 Z" fill="#fff" stroke="#1c1c1c" stroke-width="0.97" stroke-linejoin="round" stroke-linecap="round" />
<ellipse cx="134.6" cy="570.6" rx="2.0" ry="2.8" transform="rotate(-26.0 134.6 570.6)" fill="none" stroke="#1c1c1c" stroke-width="0.80" />
</g>
<g id="p11">
<path d="M145.8 494.6 L152.5 491.2 L159.3 494.6 L163.1 498.4 L162.2 501.3 L168.9 505.2 L171.8 511.9 L175.6 521.6 L177.1 529.3 L171.8 532.2 L167.0 535.0 L163.1 538.9 L162.2 536.0 L160.2 534.1 L154.4 522.5 L156.4 521.6 L152.5 515.8 L154.4 511.9 L151.6 510.0 L145.8 507.1 L144.3 501.3 Z" fill="#fff" stroke="#1c1c1c" stroke-width="1.03" stroke-linejoin="round" stroke-linecap="round" />
<path d="M168.9 505.2 L164.1 508.1 L170.8 532.2" fill="none" stroke="#1c1c1c" stroke-width="0.91" stroke-linejoin="round" stroke-linecap="round" />
<path d="M164.1 508.1 L159.3 502.3 L162.2 501.3" fill="none" stroke="#1c1c1c" stroke-width="0.80" stroke-linejoin="round" stroke-linecap="round" />
<path d="M165.5 512.9 L171.3 510.0" fill="none" stroke="#1c1c1c" stroke-width="0.80" stroke-linejoin="round" stroke-linecap="round" />
<path d="M168.4 520.6 L173.7 517.7" fill="none" stroke="#1c1c1c" stroke-width="0.80" stroke-linejoin="round" stroke-linecap="round" />
<path d="M170.3 526.4 L175.8 523.5" fill="none" stroke="#1c1c1c" stroke-width="0.80" stroke-linejoin="round" stroke-linecap="round" />
<path d="M147.0 496.4 C147.2 495.2 150.5 493.4 152.4 493.4 C154.3 493.4 156.8 495.4 158.2 496.4 C159.6 497.4 160.9 498.6 160.6 499.6 C160.3 500.6 158.0 502.2 156.4 502.4 C154.8 502.6 152.6 501.6 151.0 500.6 C149.4 499.6 146.8 497.6 147.0 496.4 Z" fill="none" stroke="#1c1c1c" stroke-width="0.80" stroke-linejoin="round" stroke-linecap="round" />
<path d="M149.6 498.8 L155.6 495.8" fill="none" stroke="#1c1c1c" stroke-width="0.68" stroke-linejoin="round" stroke-linecap="round" />
<path d="M152.0 500.6 L158.0 497.6" fill="none" stroke="#1c1c1c" stroke-width="0.68" stroke-linejoin="round" stroke-linecap="round" />
<path d="M145.8 501.3 L150.2 503.6 L150.6 507.6" fill="none" stroke="#1c1c1c" stroke-width="0.80" stroke-linejoin="round" stroke-linecap="round" />
<path d="M150.2 503.6 L156.4 502.4" fill="none" stroke="#1c1c1c" stroke-width="0.80" stroke-linejoin="round" stroke-linecap="round" />
<path d="M146.6 503.4 L146.2 506.2" fill="none" stroke="#1c1c1c" stroke-width="1.14" stroke-linejoin="round" stroke-linecap="round" />
<path d="M148.4 504.6 L148.2 507.4" fill="none" stroke="#1c1c1c" stroke-width="1.14" stroke-linejoin="round" stroke-linecap="round" />
<path d="M154.4 511.9 L159.6 509.4 L162.6 513.6 L157.6 516.6 L152.5 515.8" fill="none" stroke="#1c1c1c" stroke-width="0.80" stroke-linejoin="round" stroke-linecap="round" />
<path d="M156.4 521.6 L161.6 518.6 L159.6 514.6" fill="none" stroke="#1c1c1c" stroke-width="0.80" stroke-linejoin="round" stroke-linecap="round" />
<path d="M161.6 518.6 L166.8 533.6" fill="none" stroke="#1c1c1c" stroke-width="0.80" stroke-linejoin="round" stroke-linecap="round" />
<path d="M155.6 513.4 l3 -1.4 M156.6 519 l2.6 -1.4 M158.4 508 l-2 2.6 M160.4 506 l2 3" fill="none" stroke="#1c1c1c" stroke-width="1.03" stroke-linejoin="round" stroke-linecap="round" />
<path d="M162.2 536.0 L164.4 533.4 L165.6 536.6" fill="none" stroke="#1c1c1c" stroke-width="0.68" stroke-linejoin="round" stroke-linecap="round" />
<path d="M151.0 501.3 Q150.5 501.2 149.4 501.3 M158.7 497.7 Q158.3 498.9 157.8 499.7 M151.9 492.5 Q151.3 493.2 150.4 493.2 M160.2 530.7 Q160.5 532.2 160.9 532.7 M156.0 507.8 Q156.5 509.0 156.9 509.4 M159.4 498.2 Q158.7 498.8 157.2 499.2 M160.2 500.3 Q159.2 500.3 158.7 501.2 M154.1 497.7 Q155.1 498.0 155.3 499.3 M152.1 494.5 Q151.6 494.9 151.7 495.5 M158.1 497.9 Q159.0 498.5 160.3 498.2 M158.8 516.8 Q159.1 517.7 158.5 518.6 M154.2 516.1 Q155.2 515.7 156.0 516.2 M158.5 511.2 Q158.3 512.1 157.7 512.5 M150.9 510.8 Q150.5 511.3 150.5 512.2 M152.1 500.7 Q151.2 501.1 151.0 501.5 M162.6 510.0 Q161.9 510.4 161.5 510.6 M156.5 499.4 Q155.3 499.8 154.7 500.6 M162.1 518.7 Q161.1 519.0 160.9 519.6 M161.8 502.8 Q162.1 503.4 162.6 504.2 M159.2 513.5 Q159.4 513.6 160.1 514.6 M157.7 503.5 Q157.7 504.0 156.8 504.1 M164.5 529.7 Q163.1 530.2 162.7 530.2 M149.3 504.1 Q148.8 505.3 148.4 505.6 M158.2 505.8 Q158.9 506.9 159.7 507.4 M152.9 499.7 Q152.5 501.0 152.7 501.8 M164.4 525.8 Q164.1 526.4 163.6 526.3 " fill="none" stroke="#1c1c1c" stroke-width="0.80" stroke-linecap="round"/>
</g>
<path d="M182.0 527.0 L189.4 522.6 L188.6 521.2 L181.2 525.6 Z" fill="#fff" stroke="#1c1c1c" stroke-width="0.80" stroke-linejoin="round" stroke-linecap="round" />
<path d="M182.7 526.6 L182.3 524.9 M184.0 525.8 L183.6 524.2 M185.3 525.0 L184.9 523.4 M186.6 524.3 L186.2 522.6 M187.9 523.5 L187.5 521.9 " fill="none" stroke="#1c1c1c" stroke-width="0.68" stroke-linejoin="round" stroke-linecap="round" />
<ellipse cx="189.5" cy="521.6" rx="1.4" ry="2.2" transform="rotate(-26.0 189.5 521.6)" fill="#fff" stroke="#1c1c1c" stroke-width="0.91" />
<ellipse cx="190.4" cy="521.1" rx="1.4" ry="2.2" transform="rotate(-26.0 190.4 521.1)" fill="#fff" stroke="#1c1c1c" stroke-width="0.91" />
<g id="p8">
<path d="M200.7 471.3 L205.5 467.9 L209.3 466.0 L214.7 469.8 L215.1 477.1 L216.9 480.9 L216.1 485.7 L211.3 488.6 L207.4 487.2 L205.0 484.8 L200.7 480.9 L198.3 481.9 L198.7 480.0 L200.7 479.0 Z" fill="#fff" stroke="#1c1c1c" stroke-width="1.03" stroke-linejoin="round" stroke-linecap="round" />
<path d="M205.5 467.9 L206.0 483.8" fill="none" stroke="#1c1c1c" stroke-width="0.91" stroke-linejoin="round" stroke-linecap="round" />
<path d="M206.0 471.4 L211.3 468.4" fill="none" stroke="#1c1c1c" stroke-width="0.80" stroke-linejoin="round" stroke-linecap="round" />
<path d="M200.7 471.3 L206.0 474.4" fill="none" stroke="#1c1c1c" stroke-width="0.68" stroke-linejoin="round" stroke-linecap="round" />
<path d="M208.4 472.4 L212.4 470.4 L212.6 476.0 L208.6 478.0 Z" fill="none" stroke="#1c1c1c" stroke-width="0.80" stroke-linejoin="round" stroke-linecap="round" />
<path d="M209.8 478.6 L209.8 483.4 L213.4 481.6 L213.4 476.8" fill="none" stroke="#1c1c1c" stroke-width="0.80" stroke-linejoin="round" stroke-linecap="round" />
<ellipse cx="211.3" cy="486.2" rx="2.4" ry="1.2" transform="rotate(-20.0 211.3 486.2)" fill="none" stroke="#1c1c1c" stroke-width="0.80" />
<path d="M206.0 483.8 L211.0 481.4 L215.1 477.1" fill="none" stroke="#1c1c1c" stroke-width="0.68" stroke-linejoin="round" stroke-linecap="round" />
</g>
<path d="M203.2 489.2 l2 0.8 l-2.2 0.8 l2.2 0.8 l-2.2 0.8 l2.2 0.8 l-1.6 0.8" fill="none" stroke="#1c1c1c" stroke-width="0.91" stroke-linejoin="round" stroke-linecap="round" />
<path d="M202.0 497.6 L205.0 497.0 L205.6 504.6 L202.6 505.2 Z" fill="#fff" stroke="#1c1c1c" stroke-width="0.91" stroke-linejoin="round" stroke-linecap="round" />
<path d="M216.6 463.4 L220.2 460.6 L221.2 461.8 L217.6 464.6 Z" fill="#555" stroke="#1c1c1c" stroke-width="0.68" stroke-linejoin="round" stroke-linecap="round" />
<path d="M219.6 459.2 L222.8 458.6 L222.6 461.6 L221.2 462.4 Z" fill="#fff" stroke="#1c1c1c" stroke-width="0.91" stroke-linejoin="round" stroke-linecap="round" />
<path d="M167.1 589.4 L177.1 581.6 L176.1 580.4 L166.1 588.2 Z" fill="#fff" stroke="#1c1c1c" stroke-width="0.80" stroke-linejoin="round" stroke-linecap="round" />
<path d="M167.7 588.9 L167.1 587.4 M168.9 588.0 L168.3 586.4 M170.1 587.1 L169.5 585.5 M171.3 586.2 L170.7 584.6 M172.5 585.2 L171.9 583.7 M173.6 584.3 L173.0 582.8 " fill="none" stroke="#1c1c1c" stroke-width="0.68" stroke-linejoin="round" stroke-linecap="round" />
<ellipse cx="177.1" cy="580.6" rx="1.1" ry="1.8" transform="rotate(-26.0 177.1 580.6)" fill="#fff" stroke="#1c1c1c" stroke-width="0.91" />
<ellipse cx="177.9" cy="580.0" rx="1.1" ry="1.8" transform="rotate(-26.0 177.9 580.0)" fill="#fff" stroke="#1c1c1c" stroke-width="0.91" />
<path d="M265.6 427.0 L280.4 418.4 L281.2 419.6 L266.4 428.4 Z" fill="#fff" stroke="#1c1c1c" stroke-width="0.80" stroke-linejoin="round" stroke-linecap="round" />
<path d="M266.6 426.6 l0.8 1.4 M268 425.8 l0.8 1.4 M269.4 425 l0.8 1.4 M270.8 424.2 l0.8 1.4 M272.2 423.4 l0.8 1.4 M273.6 422.6 l0.8 1.4" fill="none" stroke="#1c1c1c" stroke-width="0.68" stroke-linejoin="round" stroke-linecap="round" />
<path d="M280.0 416.4 L282.4 414.2 L285.2 414.4 L286.2 417.0 L285.2 419.6 L282.4 420.6 L280.6 419.4 Z" fill="#fff" stroke="#1c1c1c" stroke-width="0.97" stroke-linejoin="round" stroke-linecap="round" />
<ellipse cx="283.4" cy="417.2" rx="1.5" ry="2.2" transform="rotate(-26.0 283.4 417.2)" fill="none" stroke="#1c1c1c" stroke-width="0.68" />
<g id="p12">
<path d="M227.1 442.1 L231.6 433.1 L241.3 427.3 L247.0 428.0 L252.8 425.4 L260.5 429.3 L275.9 440.2 L283.0 461.4 L281.7 465.2 L273.4 469.1 L265.7 478.1 L260.5 484.5 L254.1 483.2 L247.7 483.2 L242.5 479.4 L234.8 470.4 L229.1 458.8 L227.1 448.5 Z" fill="#fff" stroke="#1c1c1c" stroke-width="1.03" stroke-linejoin="round" stroke-linecap="round" />
<path d="M234.2 435.7 L236.1 431.8 L241.8 429.6 L247.7 430.5 L254.8 434.4 L260.5 443.4 L267.0 452.4 L272.1 465.2 L264.4 476.8 L254.1 474.2 L242.5 463.9 L235.5 448.5 Z" fill="none" stroke="#1c1c1c" stroke-width="0.91" stroke-linejoin="round" stroke-linecap="round" />
<path d="M254.8 434.4 L263.1 430.8" fill="none" stroke="#1c1c1c" stroke-width="0.80" stroke-linejoin="round" stroke-linecap="round" />
<path d="M266.3 444.7 L275.6 440.2" fill="none" stroke="#1c1c1c" stroke-width="0.80" stroke-linejoin="round" stroke-linecap="round" />
<path d="M272.1 465.2 L282.6 461.4" fill="none" stroke="#1c1c1c" stroke-width="0.80" stroke-linejoin="round" stroke-linecap="round" />
<path d="M242.5 479.4 L247.7 474.2" fill="none" stroke="#1c1c1c" stroke-width="0.80" stroke-linejoin="round" stroke-linecap="round" />
<path d="M247.7 483.2 L252.2 477.0" fill="none" stroke="#1c1c1c" stroke-width="0.80" stroke-linejoin="round" stroke-linecap="round" />
<path d="M264.4 476.8 L265.7 478.1" fill="none" stroke="#1c1c1c" stroke-width="0.80" stroke-linejoin="round" stroke-linecap="round" />
<path d="M231.6 433.1 L234.2 435.7" fill="none" stroke="#1c1c1c" stroke-width="0.68" stroke-linejoin="round" stroke-linecap="round" />
<path d="M249.6 437.6 C247.2 444 251.6 456 261.2 460.7 L266 452.4 L254.8 434.4 Z" fill="none" stroke="#1c1c1c" stroke-width="0.91" stroke-linejoin="round" stroke-linecap="round" />
<path d="M251.6 438.6 C249.8 444.6 253.4 454.6 260.8 458.6" fill="none" stroke="#1c1c1c" stroke-width="0.57" stroke-linejoin="round" stroke-linecap="round" />
<path d="M237.6 438.6 l3.6 -1.4 M238 441.4 l4.4 -1.8 M238.6 444.2 l4.6 -1.8 M239.6 447 l4.4 -1.8 M240.6 449.8 l4.2 -1.6 M241.8 452.6 l4.0 -1.6 M243.2 455.4 l3.8 -1.4 M245 458 l3.6 -1.4 M246.8 460.8 l3.4 -1.4 M248.8 463.2 l3.2 -1.2" fill="none" stroke="#1c1c1c" stroke-width="1.03" stroke-linejoin="round" stroke-linecap="round" />
<path d="M244.6 436.6 l1.2 2.6 M246.8 440.6 l-1.6 1.2 M246 446.6 l1.6 2 M247.6 452.6 l1.4 1.4" fill="none" stroke="#1c1c1c" stroke-width="0.91" stroke-linejoin="round" stroke-linecap="round" />
<path d="M256.6 461.6 L261.6 459.6 L264.6 464.6 L259.6 466.8 Z" fill="#999" stroke="#1c1c1c" stroke-width="0.80" stroke-linejoin="round" stroke-linecap="round" />
<path d="M259.6 468.6 L264.6 466.4 L267.6 471.6 L262.4 473.8 Z" fill="none" stroke="#1c1c1c" stroke-width="0.91" stroke-linejoin="round" stroke-linecap="round" />
<path d="M260.8 469.4 l1.8 3.6 M262.6 468.6 l1.8 3.6 M264.2 467.8 l1.8 3.6 M254.4 464.6 l3 5 M256.6 470.6 l3.6 2.6 M266.6 460.6 l2.6 3.6 M268.4 458.6 l1.6 4" fill="none" stroke="#1c1c1c" stroke-width="0.91" stroke-linejoin="round" stroke-linecap="round" />
<ellipse cx="267.6" cy="456.6" rx="0.9" ry="1.2" transform="rotate(0.0 267.6 456.6)" fill="#444" stroke="#1c1c1c" stroke-width="0.80" />
<path d="M258.3 464.8 Q257.8 465.8 256.8 466.0 M255.4 457.1 Q255.7 457.5 256.5 457.1 M243.2 440.5 Q242.0 441.0 241.3 440.6 M255.2 461.9 Q256.2 462.9 256.8 463.0 M240.8 433.5 Q240.8 434.3 241.7 434.8 M247.9 444.9 Q247.1 445.2 246.7 445.6 M262.9 469.6 Q263.7 469.7 264.7 469.7 M248.1 446.9 Q247.6 448.0 248.0 448.7 M264.7 470.3 Q265.2 470.3 266.6 470.5 M257.9 473.0 Q258.4 473.7 258.8 474.7 M247.1 438.7 Q247.8 439.3 248.0 439.0 M241.4 432.7 Q240.6 432.5 240.0 432.8 M257.2 468.8 Q256.9 469.8 257.4 470.1 M262.3 474.5 Q261.5 475.2 261.6 476.1 M253.4 464.3 Q253.3 464.5 253.4 465.4 M264.1 470.7 Q264.8 471.6 264.9 472.2 M259.8 465.7 Q259.9 466.4 260.5 467.2 M244.7 461.6 Q244.9 462.8 244.9 463.4 " fill="none" stroke="#1c1c1c" stroke-width="0.75" stroke-linecap="round"/>
</g>
<path d="M55.9 231.3 L55.9 244.5 M110.4 338.0 L110.4 298.9 L213.5 242.3 L213.5 255.5 M145.5 280.0 L145.5 317.0 M163.4 256.7 L163.4 269.6 M185.3 258.0 L185.3 270.0 M186.2 281.0 L186.2 293.6 M203.3 248.0 L203.3 263.0 M202.7 274.0 L202.7 305.6 M213.6 267.0 L213.6 292.5 M256.9 257.0 L256.9 240.0 L311.3 211.4 L311.3 218.0 M283.8 213.0 L283.8 225.6 M295.4 219.6 L295.4 225.2 M295.4 236.1 L295.4 247.0 M311.3 229.0 L311.3 239.3 M232.3 313.9 L239.6 309.7 L240.2 322.3 L245.9 319.5 M251.6 318.6 L251.6 328.0 M39.4 379.8 L39.4 407.2 M56.4 369.9 L56.4 385.0 M74.8 364.7 L74.8 383.2 M282.7 408.4 L283.5 415.0 M221.4 433.3 L221.4 458.2 M259.7 484.2 L259.7 502.0 M129.1 460.5 L139.2 455.0 M129.6 475.5 L139.2 471.4 M199.7 472.3 L177.8 459.7 L177.8 492.0 L184.8 497.6 M172.7 473.5 L177.8 475.0 M177.8 477.0 L186.0 483.0 M194.6 489.2 L202.5 490.6 M191.8 499.6 L201.6 501.8 M72.9 508.2 L72.9 520.5 M147.8 541.0 L147.8 561.6 M172.7 531.3 L172.7 551.5 M189.6 524.3 L190.4 534.1 M134.3 573.7 L134.3 589.6 M177.8 583.3 L177.8 595.9" fill="none" stroke="#0a0a0a" stroke-width="1.2"/>
<path d="M324.4 242.5 L350.8 228.7 M350.8 228.7 L350.8 274.3 M350.8 276.4 L350.8 302.3 M350.8 302.3 L325.2 316.2 M321.5 318.2 L294.0 333.3 M291.1 335.0 L268.0 347.4 M263.7 349.8 L236.2 364.9 M233.3 366.5 L207.0 381.0 M202.6 383.5 L176.4 398.2 M173.0 400.1 L148.3 413.9 M143.8 416.4 L115.7 432.0 M112.3 434.0 L84.2 449.6 M80.8 451.5 L55.0 465.9 M51.6 467.8 L26.9 482.3 M26.9 482.3 L26.9 504.4 M26.9 507.5 L26.9 536.7 M26.9 539.8 L26.9 565.8 M26.9 569.0 L26.9 590.8 M26.9 590.8 L43.1 582.5 M46.3 580.6 L61.9 572.1" fill="none" stroke="#0a0a0a" stroke-width="1.3" stroke-linecap="square"/>
<path d="M125.3 547.1 V559.6 H129.3" fill="none" stroke="#0a0a0a" stroke-width="1" stroke-dasharray="4.2 2.4 10 0"/>
<path d="M153.8 539.2 L154.5 592.6 L159 592.6" fill="none" stroke="#0a0a0a" stroke-width="1" stroke-dasharray="11 2.6 17 2.6 17 2.6 8 0"/>
<path d="M161 590.6 L167 587.4" fill="none" stroke="#0a0a0a" stroke-width="1"/>
<rect x="158.8" y="246.0" width="9.3" height="10.8" fill="#ffff00"/>
<rect x="208.7" y="256.0" width="9.5" height="10.8" fill="#ffff00"/>
<rect x="197.9" y="262.9" width="9.3" height="11.0" fill="#ffff00"/>
<rect x="180.8" y="269.8" width="8.4" height="11.2" fill="#ffff00"/>
<rect x="276.9" y="202.1" width="13.2" height="11.0" fill="#ffff00"/>
<rect x="287.8" y="225.0" width="13.4" height="11.2" fill="#ffff00"/>
<rect x="303.9" y="217.9" width="13.1" height="11.2" fill="#ffff00"/>
<rect x="243.8" y="327.8" width="14.2" height="11.3" fill="#ffff00"/>
<rect x="31.9" y="369.1" width="13.2" height="10.8" fill="#ffff00"/>
<rect x="47.9" y="359.3" width="13.8" height="10.7" fill="#ffff00"/>
<rect x="66.0" y="354.0" width="12.8" height="10.8" fill="#ffff00"/>
<rect x="275.0" y="398.5" width="13.7" height="10.0" fill="#ffff00"/>
<rect x="214.3" y="423.4" width="13.3" height="10.0" fill="#ffff00"/>
<rect x="253.3" y="501.8" width="12.6" height="10.7" fill="#ffff00"/>
<rect x="139.0" y="448.8" width="12.0" height="9.9" fill="#ffff00"/>
<rect x="139.0" y="465.7" width="12.0" height="9.9" fill="#ffff00"/>
<rect x="165.5" y="467.3" width="7.3" height="10.2" fill="#ffff00"/>
<rect x="183.2" y="481.9" width="11.5" height="9.6" fill="#ffff00"/>
<rect x="184.7" y="493.7" width="7.3" height="9.6" fill="#ffff00"/>
<rect x="68.3" y="499.0" width="8.5" height="9.3" fill="#ffff00"/>
<rect x="143.0" y="561.4" width="8.7" height="10.2" fill="#ffff00"/>
<rect x="165.5" y="551.3" width="11.8" height="10.4" fill="#ffff00"/>
<rect x="184.0" y="533.9" width="12.7" height="10.1" fill="#ffff00"/>
<rect x="126.8" y="589.4" width="11.8" height="9.8" fill="#ffff00"/>
<rect x="171.9" y="595.7" width="11.6" height="10.7" fill="#f4868c"/>
<g font-family="Liberation Sans, sans-serif" font-size="9.7" text-anchor="middle" fill="#111">
<text transform="translate(163.4 254.9) scale(0.98 1)">2</text>
<text transform="translate(213.4 264.9) scale(0.98 1)">3</text>
<text transform="translate(202.6 271.9) scale(0.98 1)">4</text>
<text transform="translate(185.1 278.9) scale(0.98 1)">5</text>
<text transform="translate(283.4 211.1) scale(0.98 1)">17</text>
<text transform="translate(294.4 234.1) scale(0.98 1)">18</text>
<text transform="translate(310.4 227.0) scale(0.98 1)">19</text>
<text transform="translate(250.9 336.9) scale(0.98 1)">23</text>
<text transform="translate(38.5 378.0) scale(0.98 1)">13</text>
<text transform="translate(54.8 368.1) scale(0.98 1)">20</text>
<text transform="translate(72.5 362.9) scale(0.98 1)">21</text>
<text transform="translate(281.8 407.0) scale(0.98 1)">22</text>
<text transform="translate(221.0 431.9) scale(0.98 1)">26</text>
<text transform="translate(259.6 510.6) scale(0.98 1)">12</text>
<text transform="translate(145.1 457.2) scale(0.98 1)">16</text>
<text transform="translate(145.1 474.1) scale(0.98 1)">14</text>
<text transform="translate(169.2 475.9) scale(0.98 1)">8</text>
<text transform="translate(189.0 490.2) scale(0.98 1)">10</text>
<text transform="translate(188.3 502.0) scale(0.98 1)">9</text>
<text transform="translate(72.6 507.1) scale(0.98 1)">6</text>
<text transform="translate(147.4 570.0) scale(0.98 1)">7</text>
<text transform="translate(171.4 560.0) scale(0.98 1)">11</text>
<text transform="translate(190.4 542.5) scale(0.98 1)">24</text>
<text transform="translate(132.7 597.8) scale(0.98 1)">15</text>
<text transform="translate(177.8 604.5) scale(0.98 1)">25</text>
<text transform="translate(55.4 228.1) scale(0.98 1)" fill="#222">1</text>
</g>
</svg></div>
<div id="tb"><div id="tbi"></div></div>
<svg class="ic" style="left:0;top:0;z-index:5" width="50" height="195">
<defs>
<linearGradient id="bg1" x1="0" y1="0" x2="0" y2="1"><stop offset="0" stop-color="#f0f0f0"/><stop offset="0.5" stop-color="#dedede"/><stop offset="1" stop-color="#c6c6c6"/></linearGradient>
<linearGradient id="bg2" x1="0" y1="0" x2="1" y2="0"><stop offset="0" stop-color="#e6e6e6"/><stop offset="0.6" stop-color="#c4c4c4"/><stop offset="1" stop-color="#a9a9a9"/></linearGradient>
</defs>
<!-- plus -->
<path d="M30 38.5 L32.6 41 L30 43.5 Z" fill="#e4e4e4"/>
<rect x="16.5" y="34.5" width="13.5" height="13.5" rx="1.3" fill="url(#bg1)" stroke="#e9e9e9" stroke-width="1"/>
<path d="M18.8 41.2 H27.6 M23.2 36.8 V45.6" stroke="#555" stroke-width="1.7"/>
<!-- minus -->
<path d="M16.4 61.3 L13.6 63.9 L16.4 66.5 Z" fill="#e4e4e4"/>
<rect x="16.5" y="57.5" width="13.5" height="13.5" rx="1.3" fill="url(#bg1)" stroke="#e9e9e9" stroke-width="1"/>
<path d="M18.6 64.1 H27.8" stroke="#555" stroke-width="1.9"/>
<!-- grid -->
<rect x="16.5" y="86.5" width="13.5" height="13.5" rx="1.3" fill="url(#bg1)" stroke="#e9e9e9" stroke-width="1"/>
<g fill="#8a8a8a" stroke="#6c6c6c" stroke-width="0.6"><rect x="18.2" y="88.2" width="3.1" height="3.1"/><rect x="25.2" y="88.2" width="3.1" height="3.1"/><rect x="18.2" y="95.2" width="3.1" height="3.1"/><rect x="25.2" y="95.2" width="3.1" height="3.1"/></g>
<!-- square -->
<rect x="16.5" y="109" width="13.5" height="13.5" rx="1.3" fill="url(#bg1)" stroke="#e9e9e9" stroke-width="1"/>
<rect x="19.6" y="112.2" width="7.4" height="7.4" fill="#d2d2d2" stroke="#5e5e5e" stroke-width="1.1"/>
<!-- export -->
<rect x="20.3" y="161.6" width="11" height="14.2" fill="url(#bg2)"/>
<path d="M31 161.8 H20.5 V175.6 H31" fill="none" stroke="#f4f4f4" stroke-width="0.9" stroke-opacity="0.95"/>
<rect x="14.4" y="161.4" width="4.9" height="14.8" rx="0.8" fill="#8e8e8e"/>
<g fill="#e9e9e9"><rect x="15.2" y="162.3" width="3.5" height="3.4"/><rect x="15.2" y="167.2" width="3.5" height="3.4" fill="#cfcfcf"/><rect x="15.2" y="172.1" width="3.5" height="3.4" fill="#c6c6c6"/></g>
<path d="M22.4 169 H28.6" stroke="#444" stroke-width="1.9"/><path d="M27.6 165.8 L31.2 169 L27.6 172.2 Z" fill="#444"/>
</svg>

<div id="split"></div>
<div id="right">
<div id="hdr"></div>
<span class="ht" style="left:457.5px"><span class="sx" style="transform:scaleX(0.9612)">Symbol(s)</span></span>
<span class="ht" style="left:541.5px"><span class="sx" style="transform:scaleX(1.08)">Item</span></span>
<span class="ht" style="left:576.5px"><span class="sx" style="transform:scaleX(1.0156)">Parts No.</span></span>
<span class="ht" style="left:660.5px"><span class="sx" style="transform:scaleX(1.0263)">Qty.</span></span>
<span class="ht" style="left:695.5px"><span class="sx" style="transform:scaleX(1.011)">Latest Part No.</span></span>
<span class="ht" style="left:779.5px"><span class="sx" style="transform:scaleX(1.0741)">Description</span></span>
<span class="ht" style="left:909.5px"><span class="sx" style="transform:scaleX(1.0526)">Cut Out</span></span>
<span class="ht" style="left:979.5px"><span class="sx" style="transform:scaleX(1.0714)">Cut In</span></span>
<span class="ht" style="left:1049.5px"><span class="sx" style="transform:scaleX(0.9896)">Comment</span></span>
<svg class="ic" style="left:400px;top:23px" width="16" height="16"><use href="#i-find"/></svg>
<i class="vs" style="left:452px"></i>
<i class="vs" style="left:536px"></i>
<i class="vs" style="left:571px"></i>
<i class="vs" style="left:655px"></i>
<i class="vs" style="left:690px"></i>
<i class="vs" style="left:774px"></i>
<i class="vs" style="left:904px"></i>
<i class="vs" style="left:974px"></i>
<i class="vs" style="left:1044px"></i>
<div class="row" style="top:21px">
<svg class="ic" style="left:6px;top:4px" width="11" height="11"><use href="#i-gear"/></svg>
<svg class="ic" style="left:21px;top:2px" width="17" height="14"><use href="#i-cart"/></svg>
<svg class="ic" style="left:40px;top:2px" width="15" height="15"><use href="#i-info"/></svg>
<span class="ct" style="left:167.0px"><span class="sx" style="transform:scaleX(0.9593)">2</span></span>
<span class="ct" style="left:202.0px"><span class="sx" style="transform:scaleX(0.9593)">185446221</span></span>
<span class="ct" style="left:286.0px"><span class="sx" style="transform:scaleX(0.9593)">1</span></span>
<span class="ct" style="left:321.0px"><span class="sx" style="transform:scaleX(0.9593)">185446221</span></span>
<span class="ct" style="left:404.6px"><span class="sx" style="transform:scaleX(0.9289)">COVER</span></span>
</div>
<div class="row" style="top:41px">
<svg class="ic" style="left:6px;top:4px" width="11" height="11"><use href="#i-gear"/></svg>
<svg class="ic" style="left:21px;top:2px" width="17" height="14"><use href="#i-cart"/></svg>
<svg class="ic" style="left:40px;top:2px" width="15" height="15"><use href="#i-info"/></svg>
<span class="ct" style="left:167.0px"><span class="sx" style="transform:scaleX(0.9593)">3</span></span>
<span class="ct" style="left:202.0px"><span class="sx" style="transform:scaleX(0.9593)">185446223</span></span>
<span class="ct" style="left:286.0px"><span class="sx" style="transform:scaleX(0.9593)">1</span></span>
<span class="ct" style="left:321.0px"><span class="sx" style="transform:scaleX(0.9593)">185446223</span></span>
<span class="ct" style="left:404.6px"><span class="sx" style="transform:scaleX(0.8848)">PLATE</span></span>
</div>
<div class="row" style="top:61px">
<svg class="ic" style="left:6px;top:4px" width="11" height="11"><use href="#i-gear"/></svg>
<svg class="ic" style="left:21px;top:2px" width="17" height="14"><use href="#i-cart"/></svg>
<svg class="ic" style="left:40px;top:2px" width="15" height="15"><use href="#i-info"/></svg>
<span class="ct" style="left:167.0px"><span class="sx" style="transform:scaleX(0.9593)">4</span></span>
<span class="ct" style="left:202.0px"><span class="sx" style="transform:scaleX(0.9593)">185446224</span></span>
<span class="ct" style="left:286.0px"><span class="sx" style="transform:scaleX(0.9593)">1</span></span>
<span class="ct" style="left:321.0px"><span class="sx" style="transform:scaleX(0.9593)">185446224</span></span>
<span class="ct" style="left:404.6px"><span class="sx" style="transform:scaleX(0.8899)">BALL BEARING</span></span>
</div>
<div class="row" style="top:81px">
<svg class="ic" style="left:6px;top:4px" width="11" height="11"><use href="#i-gear"/></svg>
<svg class="ic" style="left:21px;top:2px" width="17" height="14"><use href="#i-cart"/></svg>
<svg class="ic" style="left:40px;top:2px" width="15" height="15"><use href="#i-info"/></svg>
<span class="ct" style="left:167.0px"><span class="sx" style="transform:scaleX(0.9593)">5</span></span>
<span class="ct" style="left:202.0px"><span class="sx" style="transform:scaleX(0.9593)">185446227</span></span>
<span class="ct" style="left:286.0px"><span class="sx" style="transform:scaleX(0.9593)">2</span></span>
<span class="ct" style="left:321.0px"><span class="sx" style="transform:scaleX(0.9593)">185446227</span></span>
<span class="ct" style="left:404.6px"><span class="sx" style="transform:scaleX(0.9414)">STUD</span></span>
</div>
<div class="row" style="top:101px">
<svg class="ic" style="left:6px;top:4px" width="11" height="11"><use href="#i-gear"/></svg>
<svg class="ic" style="left:21px;top:2px" width="17" height="14"><use href="#i-cart"/></svg>
<svg class="ic" style="left:40px;top:2px" width="15" height="15"><use href="#i-info"/></svg>
<span class="ct" style="left:167.0px"><span class="sx" style="transform:scaleX(0.9593)">6</span></span>
<span class="ct" style="left:202.0px"><span class="sx" style="transform:scaleX(0.9593)">185446228</span></span>
<span class="ct" style="left:286.0px"><span class="sx" style="transform:scaleX(0.9593)">1</span></span>
<span class="ct" style="left:321.0px"><span class="sx" style="transform:scaleX(0.9593)">185446228</span></span>
<span class="ct" style="left:404.6px"><span class="sx" style="transform:scaleX(0.9289)">COVER</span></span>
</div>
<div class="row" style="top:121px">
<svg class="ic" style="left:6px;top:4px" width="11" height="11"><use href="#i-gear"/></svg>
<svg class="ic" style="left:21px;top:2px" width="17" height="14"><use href="#i-cart"/></svg>
<svg class="ic" style="left:40px;top:2px" width="15" height="15"><use href="#i-info"/></svg>
<span class="ct" style="left:167.0px"><span class="sx" style="transform:scaleX(0.9593)">7</span></span>
<span class="ct" style="left:202.0px"><span class="sx" style="transform:scaleX(0.9593)">185446229</span></span>
<span class="ct" style="left:286.0px"><span class="sx" style="transform:scaleX(0.9593)">1</span></span>
<span class="ct" style="left:321.0px"><span class="sx" style="transform:scaleX(0.9593)">185446229</span></span>
<span class="ct" style="left:404.6px"><span class="sx" style="transform:scaleX(0.8842)">RECTIFIER</span></span>
</div>
<div class="row" style="top:141px">
<svg class="ic" style="left:6px;top:4px" width="11" height="11"><use href="#i-gear"/></svg>
<svg class="ic" style="left:21px;top:2px" width="17" height="14"><use href="#i-cart"/></svg>
<svg class="ic" style="left:40px;top:2px" width="15" height="15"><use href="#i-info"/></svg>
<span class="ct" style="left:167.0px"><span class="sx" style="transform:scaleX(0.9593)">8</span></span>
<span class="ct" style="left:202.0px"><span class="sx" style="transform:scaleX(0.9593)">185446306</span></span>
<span class="ct" style="left:286.0px"><span class="sx" style="transform:scaleX(0.9593)">1</span></span>
<span class="ct" style="left:321.0px"><span class="sx" style="transform:scaleX(0.9593)">185446306</span></span>
<span class="ct" style="left:404.6px"><span class="sx" style="transform:scaleX(0.885)">BRUSH ASSEMBLY</span></span>
</div>
<div class="row" style="top:161px">
<svg class="ic" style="left:6px;top:4px" width="11" height="11"><use href="#i-gear"/></svg>
<svg class="ic" style="left:21px;top:2px" width="17" height="14"><use href="#i-cart"/></svg>
<svg class="ic" style="left:40px;top:2px" width="15" height="15"><use href="#i-s"/></svg>
<svg class="ic" style="left:58px;top:2px" width="15" height="15"><use href="#i-info"/></svg>
<svg class="ic" style="left:83px;top:2px" width="16" height="15"><use href="#i-book"/></svg>
<span class="ct" style="left:167.0px"><span class="sx" style="transform:scaleX(0.9593)">8</span></span>
<span class="ct" style="left:202.0px"><span class="sx" style="transform:scaleX(0.9593)">185446230</span></span>
<span class="ct" style="left:286.0px"><span class="sx" style="transform:scaleX(0.9593)">1</span></span>
<span class="ct" style="left:321.0px"><span class="sx" style="transform:scaleX(0.9593)">185446306</span></span>
<span class="ct" style="left:404.6px"><span class="sx" style="transform:scaleX(0.9422)">HOLDER</span></span>
</div>
<div class="row" style="top:181px">
<svg class="ic" style="left:6px;top:4px" width="11" height="11"><use href="#i-gear"/></svg>
<svg class="ic" style="left:21px;top:2px" width="17" height="14"><use href="#i-cart"/></svg>
<svg class="ic" style="left:40px;top:2px" width="15" height="15"><use href="#i-info"/></svg>
<span class="ct" style="left:167.0px"><span class="sx" style="transform:scaleX(0.9593)">9</span></span>
<span class="ct" style="left:202.0px"><span class="sx" style="transform:scaleX(0.9593)">185446231</span></span>
<span class="ct" style="left:286.0px"><span class="sx" style="transform:scaleX(0.9593)">2</span></span>
<span class="ct" style="left:321.0px"><span class="sx" style="transform:scaleX(0.9593)">185446231</span></span>
<span class="ct" style="left:404.6px"><span class="sx" style="transform:scaleX(0.927)">BRUSH</span></span>
</div>
<div class="row" style="top:201px">
<svg class="ic" style="left:6px;top:4px" width="11" height="11"><use href="#i-gear"/></svg>
<svg class="ic" style="left:21px;top:2px" width="17" height="14"><use href="#i-cart"/></svg>
<svg class="ic" style="left:40px;top:2px" width="15" height="15"><use href="#i-info"/></svg>
<span class="ct" style="left:167.0px"><span class="sx" style="transform:scaleX(0.9593)">10</span></span>
<span class="ct" style="left:202.0px"><span class="sx" style="transform:scaleX(0.9593)">185446232</span></span>
<span class="ct" style="left:286.0px"><span class="sx" style="transform:scaleX(0.9593)">2</span></span>
<span class="ct" style="left:321.0px"><span class="sx" style="transform:scaleX(0.9593)">185446232</span></span>
<span class="ct" style="left:404.6px"><span class="sx" style="transform:scaleX(0.9073)">SPRING</span></span>
</div>
<div class="row" style="top:221px">
<svg class="ic" style="left:6px;top:4px" width="11" height="11"><use href="#i-gear"/></svg>
<svg class="ic" style="left:21px;top:2px" width="17" height="14"><use href="#i-cart"/></svg>
<svg class="ic" style="left:40px;top:2px" width="15" height="15"><use href="#i-info"/></svg>
<span class="ct" style="left:167.0px"><span class="sx" style="transform:scaleX(0.9593)">11</span></span>
<span class="ct" style="left:202.0px"><span class="sx" style="transform:scaleX(0.9593)">185446234</span></span>
<span class="ct" style="left:286.0px"><span class="sx" style="transform:scaleX(0.9593)">1</span></span>
<span class="ct" style="left:321.0px"><span class="sx" style="transform:scaleX(0.9593)">185446234</span></span>
<span class="ct" style="left:404.6px"><span class="sx" style="transform:scaleX(0.9299)">REGULATOR</span></span>
</div>
<div class="row" style="top:241px">
<svg class="ic" style="left:6px;top:4px" width="11" height="11"><use href="#i-gear"/></svg>
<svg class="ic" style="left:21px;top:2px" width="17" height="14"><use href="#i-cart"/></svg>
<svg class="ic" style="left:40px;top:2px" width="15" height="15"><use href="#i-info"/></svg>
<span class="ct" style="left:167.0px"><span class="sx" style="transform:scaleX(0.9593)">12</span></span>
<span class="ct" style="left:202.0px"><span class="sx" style="transform:scaleX(0.9593)">185446235</span></span>
<span class="ct" style="left:286.0px"><span class="sx" style="transform:scaleX(0.9593)">1</span></span>
<span class="ct" style="left:321.0px"><span class="sx" style="transform:scaleX(0.9593)">185446235</span></span>
<span class="ct" style="left:404.6px"><span class="sx" style="transform:scaleX(0.9289)">COVER</span></span>
</div>
<div class="row" style="top:261px">
<svg class="ic" style="left:6px;top:4px" width="11" height="11"><use href="#i-gear"/></svg>
<svg class="ic" style="left:21px;top:2px" width="17" height="14"><use href="#i-cart"/></svg>
<svg class="ic" style="left:40px;top:2px" width="15" height="15"><use href="#i-info"/></svg>
<span class="ct" style="left:167.0px"><span class="sx" style="transform:scaleX(0.9593)">13</span></span>
<span class="ct" style="left:202.0px"><span class="sx" style="transform:scaleX(0.9593)">185446236</span></span>
<span class="ct" style="left:286.0px"><span class="sx" style="transform:scaleX(0.9593)">1</span></span>
<span class="ct" style="left:321.0px"><span class="sx" style="transform:scaleX(0.9593)">185446236</span></span>
<span class="ct" style="left:404.6px"><span class="sx" style="transform:scaleX(0.95)">NUT</span></span>
</div>
<div class="row" style="top:281px">
<svg class="ic" style="left:6px;top:4px" width="11" height="11"><use href="#i-gear"/></svg>
<svg class="ic" style="left:21px;top:2px" width="17" height="14"><use href="#i-cart"/></svg>
<svg class="ic" style="left:40px;top:2px" width="15" height="15"><use href="#i-info"/></svg>
<span class="ct" style="left:167.0px"><span class="sx" style="transform:scaleX(0.9593)">14</span></span>
<span class="ct" style="left:202.0px"><span class="sx" style="transform:scaleX(0.9593)">185446237</span></span>
<span class="ct" style="left:286.0px"><span class="sx" style="transform:scaleX(0.9593)">1</span></span>
<span class="ct" style="left:321.0px"><span class="sx" style="transform:scaleX(0.9593)">185446237</span></span>
<span class="ct" style="left:404.6px"><span class="sx" style="transform:scaleX(0.9414)">BUSH</span></span>
</div>
<div class="row" style="top:301px">
<svg class="ic" style="left:6px;top:4px" width="11" height="11"><use href="#i-gear"/></svg>
<svg class="ic" style="left:21px;top:2px" width="17" height="14"><use href="#i-cart"/></svg>
<svg class="ic" style="left:40px;top:2px" width="15" height="15"><use href="#i-info"/></svg>
<span class="ct" style="left:167.0px"><span class="sx" style="transform:scaleX(0.9593)">15</span></span>
<span class="ct" style="left:202.0px"><span class="sx" style="transform:scaleX(0.9593)">185446238</span></span>
<span class="ct" style="left:286.0px"><span class="sx" style="transform:scaleX(0.9593)">2</span></span>
<span class="ct" style="left:321.0px"><span class="sx" style="transform:scaleX(0.9593)">185446238</span></span>
<span class="ct" style="left:404.6px"><span class="sx" style="transform:scaleX(0.9037)">BOLT</span></span>
</div>
<div class="row" style="top:321px">
<svg class="ic" style="left:6px;top:4px" width="11" height="11"><use href="#i-gear"/></svg>
<svg class="ic" style="left:21px;top:2px" width="17" height="14"><use href="#i-cart"/></svg>
<svg class="ic" style="left:40px;top:2px" width="15" height="15"><use href="#i-info"/></svg>
<span class="ct" style="left:167.0px"><span class="sx" style="transform:scaleX(0.9593)">16</span></span>
<span class="ct" style="left:202.0px"><span class="sx" style="transform:scaleX(0.9593)">185446239</span></span>
<span class="ct" style="left:286.0px"><span class="sx" style="transform:scaleX(0.9593)">1</span></span>
<span class="ct" style="left:321.0px"><span class="sx" style="transform:scaleX(0.9593)">185446239</span></span>
<span class="ct" style="left:404.6px"><span class="sx" style="transform:scaleX(0.95)">NUT</span></span>
</div>
<div class="row" style="top:341px">
<svg class="ic" style="left:6px;top:4px" width="11" height="11"><use href="#i-gear"/></svg>
<svg class="ic" style="left:21px;top:2px" width="17" height="14"><use href="#i-cart"/></svg>
<svg class="ic" style="left:40px;top:2px" width="15" height="15"><use href="#i-info"/></svg>
<span class="ct" style="left:167.0px"><span class="sx" style="transform:scaleX(0.9593)">17</span></span>
<span class="ct" style="left:202.0px"><span class="sx" style="transform:scaleX(0.9593)">185446240</span></span>
<span class="ct" style="left:286.0px"><span class="sx" style="transform:scaleX(0.9593)">1</span></span>
<span class="ct" style="left:321.0px"><span class="sx" style="transform:scaleX(0.9593)">185446240</span></span>
<span class="ct" style="left:404.6px"><span class="sx" style="transform:scaleX(0.9895)">ROTOR</span></span>
</div>
<div class="row" style="top:361px">
<svg class="ic" style="left:6px;top:4px" width="11" height="11"><use href="#i-gear"/></svg>
<svg class="ic" style="left:21px;top:2px" width="17" height="14"><use href="#i-cart"/></svg>
<svg class="ic" style="left:40px;top:2px" width="15" height="15"><use href="#i-info"/></svg>
<span class="ct" style="left:167.0px"><span class="sx" style="transform:scaleX(0.9593)">18</span></span>
<span class="ct" style="left:202.0px"><span class="sx" style="transform:scaleX(0.9593)">185446241</span></span>
<span class="ct" style="left:286.0px"><span class="sx" style="transform:scaleX(0.9593)">1</span></span>
<span class="ct" style="left:321.0px"><span class="sx" style="transform:scaleX(0.9593)">185446241</span></span>
<span class="ct" style="left:404.6px"><span class="sx" style="transform:scaleX(0.8899)">BALL BEARING</span></span>
</div>
<div class="row" style="top:381px">
<svg class="ic" style="left:6px;top:4px" width="11" height="11"><use href="#i-gear"/></svg>
<svg class="ic" style="left:21px;top:2px" width="17" height="14"><use href="#i-cart"/></svg>
<svg class="ic" style="left:40px;top:2px" width="15" height="15"><use href="#i-info"/></svg>
<span class="ct" style="left:167.0px"><span class="sx" style="transform:scaleX(0.9593)">19</span></span>
<span class="ct" style="left:202.0px"><span class="sx" style="transform:scaleX(0.9593)">185446242</span></span>
<span class="ct" style="left:286.0px"><span class="sx" style="transform:scaleX(0.9593)">1</span></span>
<span class="ct" style="left:321.0px"><span class="sx" style="transform:scaleX(0.9593)">185446242</span></span>
<span class="ct" style="left:404.6px"><span class="sx" style="transform:scaleX(0.9289)">COVER</span></span>
</div>
<div class="row" style="top:401px">
<svg class="ic" style="left:6px;top:4px" width="11" height="11"><use href="#i-gear"/></svg>
<svg class="ic" style="left:21px;top:2px" width="17" height="14"><use href="#i-cart"/></svg>
<svg class="ic" style="left:40px;top:2px" width="15" height="15"><use href="#i-info"/></svg>
<span class="ct" style="left:167.0px"><span class="sx" style="transform:scaleX(0.9593)">20</span></span>
<span class="ct" style="left:202.0px"><span class="sx" style="transform:scaleX(0.9593)">185446243</span></span>
<span class="ct" style="left:286.0px"><span class="sx" style="transform:scaleX(0.9593)">1</span></span>
<span class="ct" style="left:321.0px"><span class="sx" style="transform:scaleX(0.9593)">185446243</span></span>
<span class="ct" style="left:404.6px"><span class="sx" style="transform:scaleX(0.9289)">COVER</span></span>
</div>
<div class="row" style="top:421px">
<svg class="ic" style="left:6px;top:4px" width="11" height="11"><use href="#i-gear"/></svg>
<svg class="ic" style="left:21px;top:2px" width="17" height="14"><use href="#i-cart"/></svg>
<svg class="ic" style="left:40px;top:2px" width="15" height="15"><use href="#i-info"/></svg>
<span class="ct" style="left:167.0px"><span class="sx" style="transform:scaleX(0.9593)">21</span></span>
<span class="ct" style="left:202.0px"><span class="sx" style="transform:scaleX(0.9593)">185446244</span></span>
<span class="ct" style="left:286.0px"><span class="sx" style="transform:scaleX(0.9593)">1</span></span>
<span class="ct" style="left:321.0px"><span class="sx" style="transform:scaleX(0.9593)">185446244</span></span>
<span class="ct" style="left:404.6px"><span class="sx" style="transform:scaleX(0.9186)">COLLAR</span></span>
</div>
<div class="row" style="top:441px">
<svg class="ic" style="left:6px;top:4px" width="11" height="11"><use href="#i-gear"/></svg>
<svg class="ic" style="left:21px;top:2px" width="17" height="14"><use href="#i-cart"/></svg>
<svg class="ic" style="left:40px;top:2px" width="15" height="15"><use href="#i-info"/></svg>
<span class="ct" style="left:167.0px"><span class="sx" style="transform:scaleX(0.9593)">22</span></span>
<span class="ct" style="left:202.0px"><span class="sx" style="transform:scaleX(0.9593)">185446245</span></span>
<span class="ct" style="left:286.0px"><span class="sx" style="transform:scaleX(0.9593)">3</span></span>
<span class="ct" style="left:321.0px"><span class="sx" style="transform:scaleX(0.9593)">185446245</span></span>
<span class="ct" style="left:404.6px"><span class="sx" style="transform:scaleX(0.9037)">BOLT</span></span>
</div>
<div class="row" style="top:461px">
<svg class="ic" style="left:6px;top:4px" width="11" height="11"><use href="#i-gear"/></svg>
<svg class="ic" style="left:21px;top:2px" width="17" height="14"><use href="#i-cart"/></svg>
<svg class="ic" style="left:40px;top:2px" width="15" height="15"><use href="#i-info"/></svg>
<span class="ct" style="left:167.0px"><span class="sx" style="transform:scaleX(0.9593)">23</span></span>
<span class="ct" style="left:202.0px"><span class="sx" style="transform:scaleX(0.9593)">185446258</span></span>
<span class="ct" style="left:286.0px"><span class="sx" style="transform:scaleX(0.9593)">3</span></span>
<span class="ct" style="left:321.0px"><span class="sx" style="transform:scaleX(0.9593)">185446258</span></span>
<span class="ct" style="left:404.6px"><span class="sx" style="transform:scaleX(0.8927)">SCREW</span></span>
</div>
<div class="row" style="top:481px">
<svg class="ic" style="left:6px;top:4px" width="11" height="11"><use href="#i-gear"/></svg>
<svg class="ic" style="left:21px;top:2px" width="17" height="14"><use href="#i-cart"/></svg>
<svg class="ic" style="left:40px;top:2px" width="15" height="15"><use href="#i-info"/></svg>
<span class="ct" style="left:167.0px"><span class="sx" style="transform:scaleX(0.9593)">24</span></span>
<span class="ct" style="left:202.0px"><span class="sx" style="transform:scaleX(0.9593)">185446262</span></span>
<span class="ct" style="left:286.0px"><span class="sx" style="transform:scaleX(0.9593)">2</span></span>
<span class="ct" style="left:321.0px"><span class="sx" style="transform:scaleX(0.9593)">185446262</span></span>
<span class="ct" style="left:404.6px"><span class="sx" style="transform:scaleX(0.8927)">SCREW</span></span>
</div>
<div class="row sel" style="top:501px">
<svg class="ic" style="left:6px;top:4px" width="11" height="11"><use href="#i-gears"/></svg>
<svg class="ic" style="left:21px;top:2px" width="17" height="14"><use href="#i-carts"/></svg>
<svg class="ic" style="left:40px;top:2px" width="15" height="15"><use href="#i-infos"/></svg>
<span class="ct" style="left:167.0px"><span class="sx" style="transform:scaleX(0.9593)">25</span></span>
<span class="ct" style="left:202.0px"><span class="sx" style="transform:scaleX(0.9593)">185446260</span></span>
<span class="ct" style="left:286.0px"><span class="sx" style="transform:scaleX(0.9593)">6</span></span>
<span class="ct" style="left:321.0px"><span class="sx" style="transform:scaleX(0.9593)">185446260</span></span>
<span class="ct" style="left:404.6px"><span class="sx" style="transform:scaleX(0.8927)">SCREW</span></span>
</div>
<div class="row" style="top:521px">
<svg class="ic" style="left:6px;top:4px" width="11" height="11"><use href="#i-gear"/></svg>
<svg class="ic" style="left:21px;top:2px" width="17" height="14"><use href="#i-cart"/></svg>
<svg class="ic" style="left:40px;top:2px" width="15" height="15"><use href="#i-info"/></svg>
<span class="ct" style="left:167.0px"><span class="sx" style="transform:scaleX(0.9593)">26</span></span>
<span class="ct" style="left:202.0px"><span class="sx" style="transform:scaleX(0.9593)">185446261</span></span>
<span class="ct" style="left:286.0px"><span class="sx" style="transform:scaleX(0.9593)">1</span></span>
<span class="ct" style="left:321.0px"><span class="sx" style="transform:scaleX(0.9593)">185446261</span></span>
<span class="ct" style="left:404.6px"><span class="sx" style="transform:scaleX(0.8927)">SCREW</span></span>
</div>
</div>
<svg class="ic" style="left:0;top:0;z-index:6;pointer-events:none" width="1108" height="623"><g fill="#2f6296" fill-opacity="0.88"><text transform="translate(505.2 320.2) scale(1.23 1)" x="0 27.4 55.2" y="0" font-family="Liberation Sans, Noto Sans CJK SC, sans-serif" font-weight="bold" font-size="23.7">英金狮</text></g></svg>
</body></html>
